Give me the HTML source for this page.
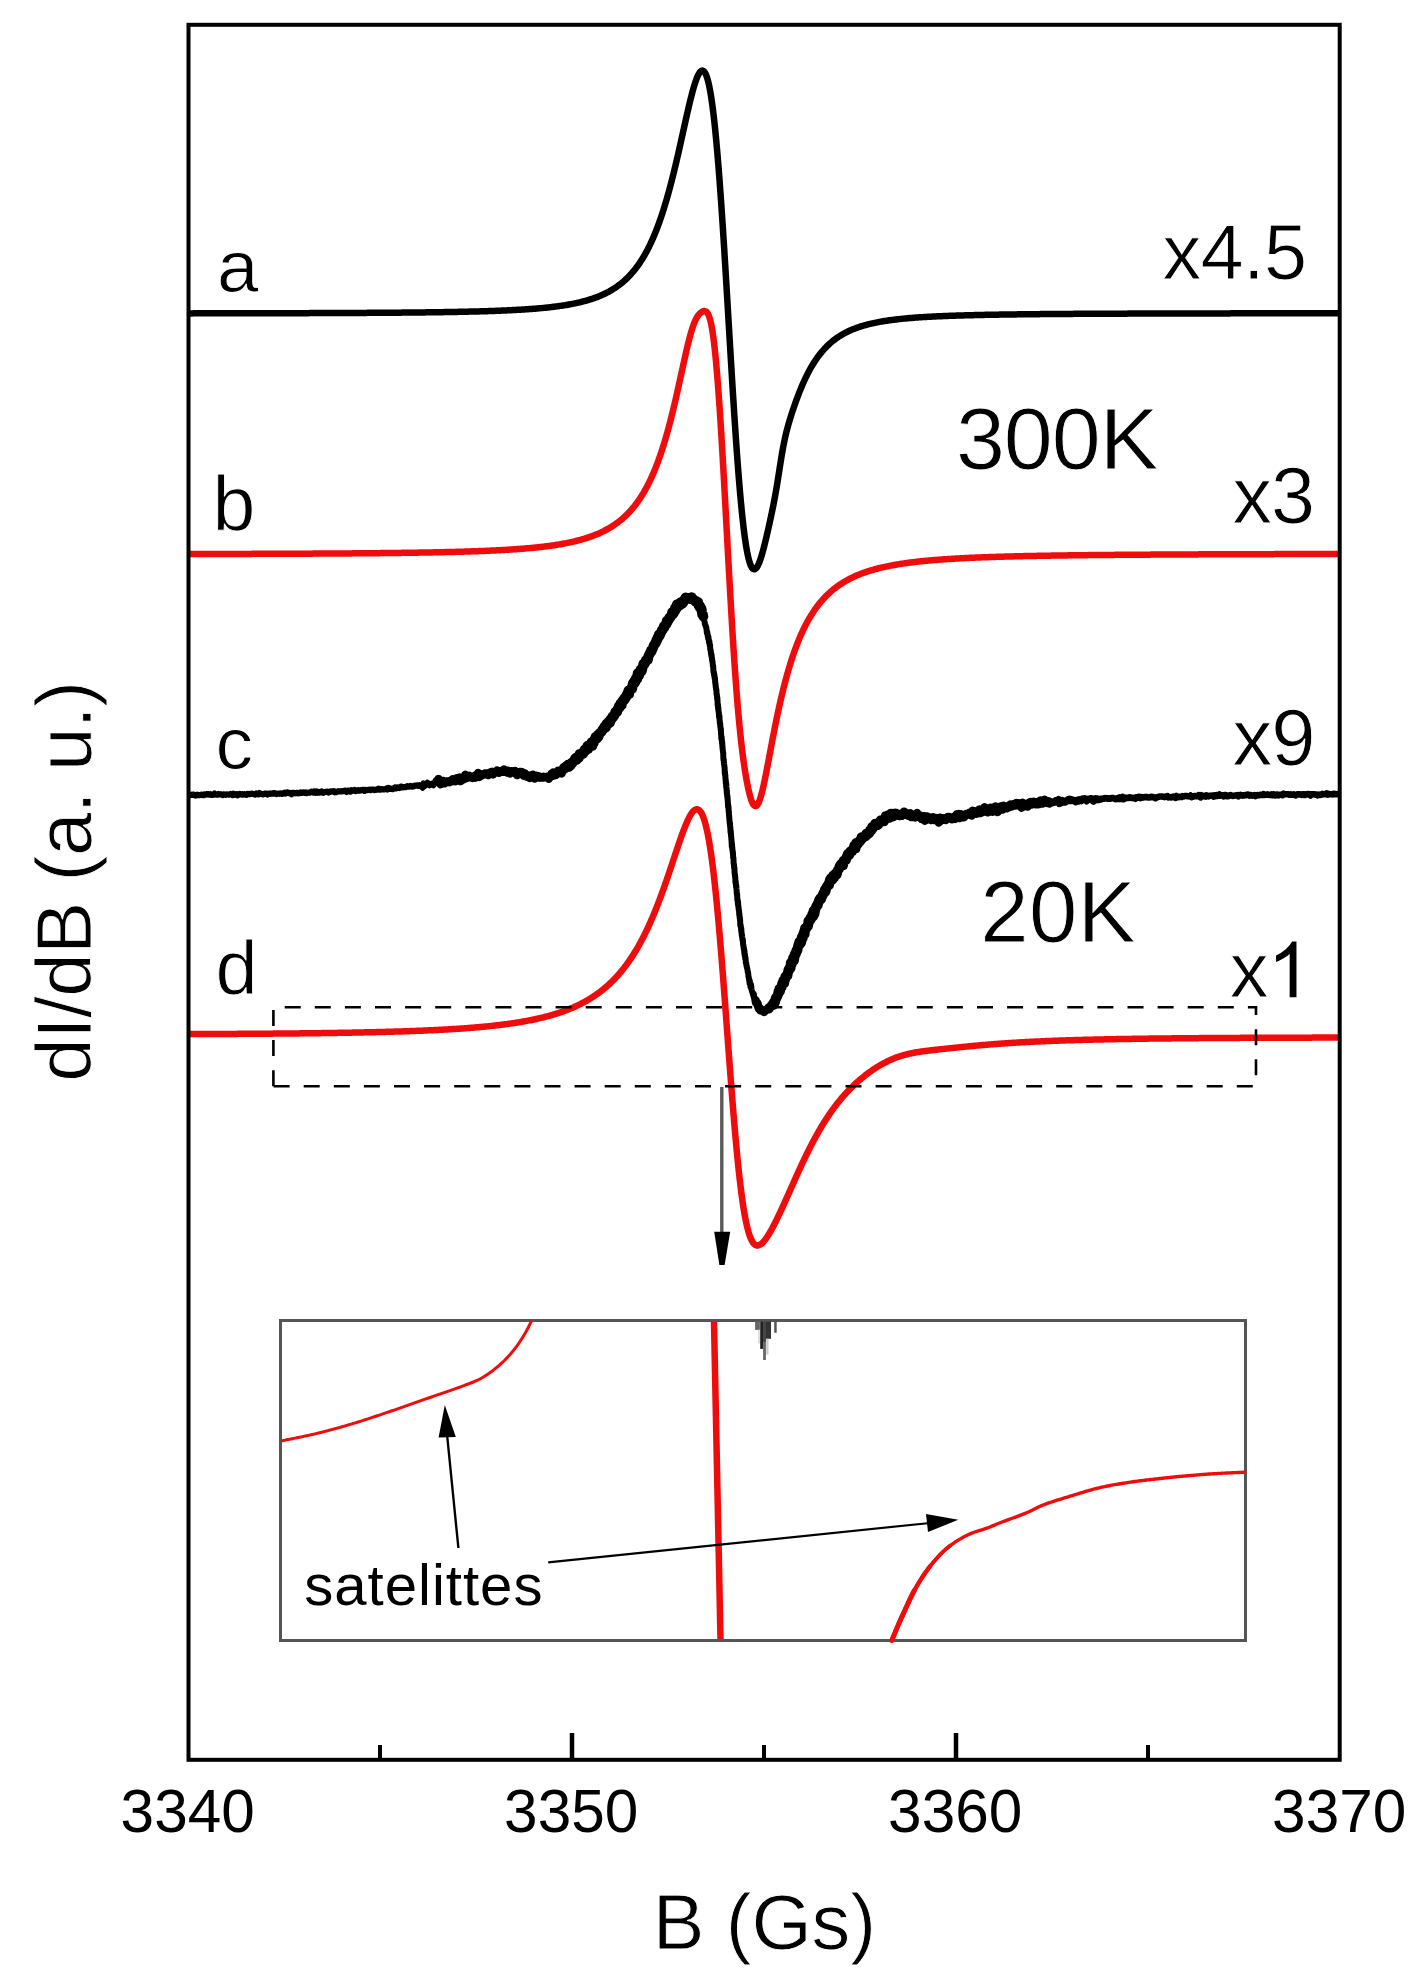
<!DOCTYPE html>
<html><head><meta charset="utf-8"><style>html,body{margin:0;padding:0;background:#fff;overflow:hidden}svg{display:block}</style></head>
<body><svg width="1420" height="1987" viewBox="0 0 1420 1987">
<rect x="0" y="0" width="1420" height="1987" fill="#fff"/>
<defs><clipPath id="pc"><rect x="188.5" y="25" width="1151.5" height="1735"/></clipPath></defs>
<g clip-path="url(#pc)">
<path d="M188.5,313.38 189.7,313.38 190.9,313.38 192.1,313.38 193.3,313.37 194.5,313.37 195.7,313.37 196.9,313.37 198.1,313.37 199.3,313.37 200.5,313.36 201.7,313.36 202.9,313.36 204.1,313.36 205.3,313.36 206.5,313.36 207.7,313.35 208.9,313.35 210.1,313.35 211.3,313.35 212.5,313.35 213.7,313.34 214.9,313.34 216.1,313.34 217.3,313.34 218.5,313.34 219.7,313.33 220.9,313.33 222.1,313.33 223.3,313.33 224.5,313.33 225.7,313.32 226.9,313.32 228.1,313.32 229.3,313.32 230.5,313.32 231.7,313.31 232.9,313.31 234.1,313.31 235.3,313.31 236.5,313.31 237.7,313.3 238.9,313.3 240.1,313.3 241.3,313.3 242.5,313.29 243.7,313.29 244.9,313.29 246.1,313.29 247.3,313.28 248.5,313.28 249.7,313.28 250.9,313.28 252.1,313.27 253.3,313.27 254.5,313.27 255.7,313.27 256.9,313.26 258.1,313.26 259.3,313.26 260.5,313.26 261.7,313.25 262.9,313.25 264.1,313.25 265.3,313.25 266.5,313.24 267.7,313.24 268.9,313.24 270.1,313.24 271.3,313.23 272.5,313.23 273.7,313.23 274.9,313.22 276.1,313.22 277.3,313.22 278.5,313.21 279.7,313.21 280.9,313.21 282.1,313.21 283.3,313.2 284.5,313.2 285.7,313.2 286.9,313.19 288.1,313.19 289.3,313.19 290.5,313.18 291.7,313.18 292.9,313.18 294.1,313.17 295.3,313.17 296.5,313.17 297.7,313.16 298.9,313.16 300.1,313.15 301.3,313.15 302.5,313.15 303.7,313.14 304.9,313.14 306.1,313.14 307.3,313.13 308.5,313.13 309.7,313.12 310.9,313.12 312.1,313.12 313.3,313.11 314.5,313.11 315.7,313.1 316.9,313.1 318.1,313.1 319.3,313.09 320.5,313.09 321.7,313.08 322.9,313.08 324.1,313.07 325.3,313.07 326.5,313.06 327.7,313.06 328.9,313.05 330.1,313.05 331.3,313.05 332.5,313.04 333.7,313.04 334.9,313.03 336.1,313.03 337.3,313.02 338.5,313.02 339.7,313.01 340.9,313 342.1,313 343.3,312.99 344.5,312.99 345.7,312.98 346.9,312.98 348.1,312.97 349.3,312.97 350.5,312.96 351.7,312.95 352.9,312.95 354.1,312.94 355.3,312.94 356.5,312.93 357.7,312.92 358.9,312.92 360.1,312.91 361.3,312.9 362.5,312.9 363.7,312.89 364.9,312.88 366.1,312.88 367.3,312.87 368.5,312.86 369.7,312.85 370.9,312.85 372.1,312.84 373.3,312.83 374.5,312.82 375.7,312.82 376.9,312.81 378.1,312.8 379.3,312.79 380.5,312.78 381.7,312.78 382.9,312.77 384.1,312.76 385.3,312.75 386.5,312.74 387.7,312.73 388.9,312.72 390.1,312.71 391.3,312.71 392.5,312.7 393.7,312.69 394.9,312.68 396.1,312.67 397.3,312.66 398.5,312.65 399.7,312.64 400.9,312.63 402.1,312.62 403.3,312.6 404.5,312.59 405.7,312.58 406.9,312.57 408.1,312.56 409.3,312.55 410.5,312.54 411.7,312.52 412.9,312.51 414.1,312.5 415.3,312.49 416.5,312.47 417.7,312.46 418.9,312.45 420.1,312.43 421.3,312.42 422.5,312.41 423.7,312.39 424.9,312.38 426.1,312.36 427.3,312.35 428.5,312.33 429.7,312.32 430.9,312.3 432.1,312.29 433.3,312.27 434.5,312.25 435.7,312.24 436.9,312.22 438.1,312.2 439.3,312.19 440.5,312.17 441.7,312.15 442.9,312.13 444.1,312.11 445.3,312.09 446.5,312.07 447.7,312.05 448.9,312.03 450.1,312.01 451.3,311.99 452.5,311.97 453.7,311.95 454.9,311.93 456.1,311.9 457.3,311.88 458.5,311.86 459.7,311.83 460.9,311.81 462.1,311.78 463.3,311.76 464.5,311.73 465.7,311.71 466.9,311.68 468.1,311.65 469.3,311.62 470.5,311.6 471.7,311.57 472.9,311.54 474.1,311.51 475.3,311.48 476.5,311.44 477.7,311.41 478.9,311.38 480.1,311.35 481.3,311.31 482.5,311.28 483.7,311.24 484.9,311.21 486.1,311.17 487.3,311.13 488.5,311.09 489.7,311.05 490.9,311.01 492.1,310.97 493.3,310.93 494.5,310.89 495.7,310.84 496.9,310.8 498.1,310.75 499.3,310.7 500.5,310.66 501.7,310.61 502.9,310.56 504.1,310.51 505.3,310.45 506.5,310.4 507.7,310.35 508.9,310.29 510.1,310.23 511.3,310.17 512.5,310.11 513.7,310.05 514.9,309.99 516.1,309.92 517.3,309.86 518.5,309.79 519.7,309.72 520.9,309.65 522.1,309.58 523.3,309.5 524.5,309.42 525.7,309.35 526.9,309.27 528.1,309.18 529.3,309.1 530.5,309.01 531.7,308.92 532.9,308.83 534.1,308.74 535.3,308.64 536.5,308.54 537.7,308.44 538.9,308.34 540.1,308.23 541.3,308.12 542.5,308.01 543.7,307.89 544.9,307.77 546.1,307.65 547.3,307.53 548.5,307.4 549.7,307.26 550.9,307.13 552.1,306.99 553.3,306.84 554.5,306.69 555.7,306.54 556.9,306.39 558.1,306.22 559.3,306.06 560.5,305.89 561.7,305.71 562.9,305.53 564.1,305.34 565.3,305.15 566.5,304.95 567.7,304.74 568.9,304.53 570.1,304.31 571.28,304.09 572.46,303.87 573.64,303.63 574.82,303.39 576,303.14 577.18,302.88 578.36,302.62 579.54,302.34 580.72,302.06 581.9,301.77 583.08,301.47 584.26,301.16 585.42,300.84 586.58,300.52 587.74,300.18 588.9,299.83 590.06,299.47 591.22,299.1 592.36,298.72 593.5,298.33 594.64,297.93 595.78,297.52 596.92,297.09 598.04,296.65 599.16,296.2 600.28,295.74 601.4,295.25 602.5,294.77 603.6,294.26 604.7,293.74 605.78,293.21 606.86,292.66 607.94,292.1 609,291.53 610.06,290.93 611.1,290.34 612.14,289.72 613.18,289.08 614.2,288.43 615.22,287.76 616.22,287.08 617.22,286.38 618.2,285.68 619.18,284.95 620.14,284.21 621.1,283.46 622.04,282.69 622.96,281.92 623.88,281.12 624.78,280.32 625.68,279.49 626.56,278.66 627.44,277.81 628.3,276.95 629.14,276.08 629.98,275.19 630.8,274.3 631.62,273.39 632.42,272.47 633.2,271.55 633.98,270.61 634.74,269.67 635.5,268.71 636.24,267.74 636.96,266.78 637.68,265.8 638.38,264.82 639.08,263.82 639.76,262.82 640.44,261.8 641.1,260.79 641.76,259.76 642.4,258.73 643.04,257.69 643.66,256.65 644.28,255.59 644.88,254.55 645.48,253.49 646.08,252.4 646.66,251.33 647.24,250.24 647.8,249.17 648.36,248.07 648.9,247 649.44,245.91 649.98,244.79 650.5,243.7 651.02,242.6 651.54,241.47 652.04,240.37 652.54,239.25 653.04,238.11 653.52,237 654,235.87 654.48,234.73 654.94,233.61 655.4,232.49 655.86,231.34 656.32,230.18 656.76,229.05 657.2,227.9 657.64,226.75 658.08,225.57 658.5,224.43 658.92,223.28 659.34,222.12 659.76,220.93 660.16,219.79 660.56,218.64 660.96,217.48 661.36,216.29 661.76,215.1 662.14,213.95 662.52,212.79 662.9,211.62 663.28,210.43 663.66,209.23 664.02,208.08 664.38,206.92 664.74,205.75 665.1,204.57 665.46,203.37 665.82,202.17 666.18,200.95 666.52,199.79 666.86,198.62 667.2,197.43 667.54,196.24 667.88,195.04 668.22,193.82 668.56,192.6 668.88,191.43 669.2,190.26 669.52,189.08 669.84,187.89 670.16,186.69 670.48,185.49 670.8,184.27 671.12,183.04 671.44,181.81 671.74,180.64 672.04,179.47 672.34,178.29 672.64,177.1 672.94,175.9 673.24,174.7 673.54,173.49 673.84,172.27 674.14,171.05 674.44,169.81 674.74,168.58 675.04,167.33 675.32,166.16 675.6,164.99 675.88,163.81 676.16,162.62 676.44,161.43 676.72,160.24 677,159.04 677.28,157.83 677.56,156.62 677.84,155.4 678.12,154.18 678.4,152.96 678.68,151.73 678.96,150.5 679.24,149.26 679.52,148.02 679.8,146.78 680.08,145.54 680.36,144.29 680.64,143.03 680.92,141.78 681.2,140.52 681.48,139.26 681.76,138 682.02,136.83 682.28,135.66 682.54,134.48 682.8,133.31 683.06,132.13 683.32,130.96 683.58,129.78 683.84,128.61 684.1,127.43 684.36,126.26 684.62,125.09 684.9,123.82 685.18,122.57 685.46,121.31 685.74,120.05 686.02,118.8 686.3,117.55 686.58,116.31 686.86,115.07 687.14,113.84 687.42,112.61 687.7,111.38 687.98,110.16 688.26,108.95 688.54,107.75 688.82,106.55 689.1,105.36 689.38,104.18 689.66,103.01 689.96,101.77 690.26,100.53 690.56,99.32 690.86,98.11 691.16,96.92 691.46,95.74 691.76,94.58 692.08,93.35 692.4,92.15 692.72,90.97 693.04,89.81 693.38,88.6 693.72,87.42 694.06,86.26 694.42,85.07 694.78,83.92 695.16,82.74 695.54,81.6 695.94,80.44 696.36,79.29 696.8,78.14 697.26,77.01 697.76,75.87 698.3,74.75 698.88,73.68 699.54,72.64 700.3,71.68 701.22,70.9 702.38,70.56 703.52,70.97 704.4,71.83 705.08,72.84 705.64,73.9 706.14,75.04 706.58,76.18 706.98,77.35 707.34,78.5 707.68,79.68 708,80.86 708.3,82.05 708.58,83.22 708.86,84.45 709.12,85.65 709.38,86.91 709.62,88.11 709.86,89.37 710.08,90.56 710.3,91.79 710.52,93.06 710.72,94.25 710.92,95.47 711.12,96.73 711.32,98.02 711.5,99.21 711.68,100.43 711.86,101.68 712.04,102.95 712.22,104.25 712.4,105.58 712.56,106.79 712.72,108.01 712.88,109.26 713.04,110.53 713.2,111.83 713.36,113.14 713.52,114.48 713.68,115.84 713.82,117.04 713.96,118.27 714.1,119.51 714.24,120.76 714.38,122.04 714.52,123.33 714.66,124.64 714.8,125.96 714.94,127.3 715.08,128.66 715.22,130.03 715.36,131.42 715.48,132.63 715.6,133.85 715.72,135.08 715.84,136.32 715.96,137.57 716.08,138.84 716.2,140.11 716.32,141.4 716.44,142.71 716.56,144.02 716.68,145.34 716.8,146.68 716.92,148.03 717.04,149.39 717.16,150.76 717.28,152.14 717.4,153.54 717.52,154.94 717.64,156.36 717.76,157.79 717.86,158.99 717.96,160.2 718.06,161.41 718.16,162.64 718.26,163.87 718.36,165.1 718.46,166.35 718.56,167.6 718.66,168.86 718.76,170.13 718.86,171.41 718.96,172.69 719.06,173.98 719.16,175.28 719.26,176.58 719.36,177.9 719.46,179.22 719.56,180.54 719.66,181.88 719.76,183.22 719.86,184.56 719.96,185.92 720.06,187.28 720.16,188.65 720.26,190.02 720.36,191.4 720.46,192.79 720.56,194.19 720.66,195.59 720.76,197 720.86,198.41 720.96,199.83 721.06,201.26 721.16,202.69 721.26,204.13 721.36,205.58 721.46,207.03 721.56,208.49 721.66,209.95 721.76,211.42 721.86,212.89 721.96,214.37 722.06,215.86 722.16,217.35 722.24,218.55 722.32,219.75 722.4,220.96 722.48,222.16 722.56,223.38 722.64,224.59 722.72,225.81 722.8,227.03 722.88,228.25 722.96,229.48 723.04,230.71 723.12,231.95 723.2,233.18 723.28,234.42 723.36,235.67 723.44,236.91 723.52,238.16 723.6,239.41 723.68,240.67 723.76,241.93 723.84,243.19 723.92,244.45 724,245.72 724.08,246.98 724.16,248.26 724.24,249.53 724.32,250.81 724.4,252.08 724.48,253.37 724.56,254.65 724.64,255.94 724.72,257.22 724.8,258.51 724.88,259.81 724.96,261.1 725.04,262.4 725.12,263.7 725.2,265 725.28,266.3 725.36,267.61 725.44,268.91 725.52,270.22 725.6,271.53 725.68,272.85 725.76,274.16 725.84,275.48 725.92,276.79 726,278.11 726.08,279.43 726.16,280.76 726.24,282.08 726.32,283.4 726.4,284.73 726.48,286.06 726.56,287.39 726.64,288.72 726.72,290.05 726.8,291.38 726.88,292.72 726.96,294.05 727.04,295.39 727.12,296.72 727.2,298.06 727.28,299.4 727.36,300.74 727.44,302.08 727.52,303.42 727.6,304.76 727.68,306.1 727.76,307.45 727.84,308.79 727.92,310.13 728,311.48 728.08,312.82 728.16,314.17 728.24,315.51 728.32,316.86 728.4,318.2 728.48,319.55 728.56,320.89 728.64,322.24 728.72,323.58 728.8,324.93 728.88,326.28 728.96,327.62 729.04,328.97 729.12,330.31 729.2,331.66 729.28,333 729.36,334.34 729.44,335.69 729.52,337.03 729.6,338.37 729.68,339.72 729.76,341.06 729.84,342.4 729.92,343.74 730,345.08 730.08,346.41 730.16,347.75 730.24,349.09 730.32,350.42 730.4,351.76 730.48,353.09 730.56,354.42 730.64,355.76 730.72,357.09 730.8,358.41 730.88,359.74 730.96,361.07 731.04,362.39 731.12,363.72 731.2,365.04 731.28,366.36 731.36,367.68 731.44,368.99 731.52,370.31 731.6,371.62 731.68,372.94 731.76,374.25 731.84,375.55 731.92,376.86 732,378.17 732.08,379.47 732.16,380.77 732.24,382.07 732.32,383.36 732.4,384.66 732.48,385.95 732.56,387.24 732.64,388.53 732.72,389.81 732.8,391.09 732.88,392.37 732.96,393.65 733.04,394.93 733.12,396.2 733.2,397.47 733.28,398.74 733.36,400 733.44,401.26 733.52,402.52 733.6,403.78 733.68,405.03 733.76,406.28 733.84,407.53 733.92,408.78 734,410.02 734.08,411.26 734.16,412.49 734.24,413.72 734.32,414.95 734.4,416.18 734.48,417.4 734.56,418.62 734.64,419.84 734.72,421.05 734.8,422.26 734.88,423.47 734.96,424.67 735.04,425.87 735.14,427.36 735.24,428.85 735.34,430.33 735.44,431.81 735.54,433.28 735.64,434.74 735.74,436.2 735.84,437.66 735.94,439.1 736.04,440.54 736.14,441.98 736.24,443.4 736.34,444.83 736.44,446.24 736.54,447.65 736.64,449.05 736.74,450.45 736.84,451.84 736.94,453.22 737.04,454.59 737.14,455.96 737.24,457.32 737.34,458.68 737.44,460.03 737.54,461.37 737.64,462.7 737.74,464.03 737.84,465.35 737.94,466.66 738.04,467.96 738.14,469.26 738.24,470.55 738.34,471.83 738.44,473.1 738.54,474.37 738.64,475.63 738.74,476.88 738.84,478.13 738.94,479.36 739.04,480.59 739.14,481.81 739.24,483.02 739.34,484.23 739.44,485.42 739.56,486.85 739.68,488.26 739.8,489.66 739.92,491.06 740.04,492.43 740.16,493.8 740.28,495.16 740.4,496.5 740.52,497.83 740.64,499.15 740.76,500.46 740.88,501.75 741,503.03 741.12,504.3 741.24,505.56 741.36,506.81 741.48,508.04 741.6,509.26 741.72,510.47 741.84,511.67 741.98,513.05 742.12,514.41 742.26,515.75 742.4,517.08 742.54,518.39 742.68,519.69 742.82,520.97 742.96,522.23 743.1,523.47 743.24,524.69 743.38,525.9 743.54,527.26 743.7,528.6 743.86,529.91 744.02,531.2 744.18,532.47 744.34,533.72 744.5,534.94 744.66,536.14 744.84,537.46 745.02,538.76 745.2,540.02 745.38,541.26 745.56,542.47 745.76,543.78 745.96,545.05 746.16,546.29 746.36,547.5 746.58,548.78 746.8,550.03 747.02,551.23 747.26,552.49 747.5,553.71 747.76,554.97 748.02,556.17 748.3,557.4 748.58,558.57 748.88,559.75 749.2,560.93 749.54,562.09 749.92,563.28 750.34,564.47 750.8,565.61 751.32,566.71 751.94,567.76 752.72,568.71 753.76,569.33 754.96,569.2 755.94,568.48 756.72,567.53 757.38,566.49 757.96,565.41 758.48,564.32 758.96,563.21 759.42,562.05 759.86,560.88 760.28,559.69 760.68,558.5 761.06,557.33 761.42,556.17 761.78,554.98 762.12,553.82 762.46,552.63 762.8,551.41 763.12,550.24 763.44,549.05 763.76,547.83 764.08,546.59 764.38,545.42 764.68,544.22 764.98,543.02 765.28,541.79 765.58,540.56 765.88,539.31 766.16,538.13 766.44,536.95 766.72,535.75 767,534.55 767.28,533.33 767.56,532.11 767.84,530.88 768.12,529.65 768.4,528.41 768.68,527.16 768.96,525.9 769.22,524.73 769.48,523.56 769.74,522.37 770,521.18 770.26,519.99 770.52,518.79 770.78,517.58 771.04,516.37 771.3,515.14 771.56,513.91 771.82,512.68 772.08,511.43 772.34,510.17 772.6,508.9 772.84,507.72 773.08,506.53 773.32,505.33 773.56,504.11 773.8,502.89 774.04,501.65 774.28,500.39 774.52,499.12 774.76,497.84 774.98,496.65 775.2,495.44 775.42,494.22 775.64,492.98 775.86,491.73 776.08,490.47 776.3,489.19 776.52,487.89 776.72,486.7 776.92,485.5 777.12,484.29 777.32,483.07 777.52,481.83 777.72,480.59 777.92,479.34 778.12,478.07 778.32,476.81 778.52,475.53 778.72,474.25 778.92,472.97 779.12,471.69 779.32,470.4 779.52,469.11 779.72,467.83 779.92,466.54 780.12,465.27 780.32,463.99 780.52,462.73 780.72,461.47 780.92,460.22 781.12,458.98 781.32,457.76 781.52,456.54 781.72,455.34 781.92,454.16 782.14,452.87 782.36,451.61 782.58,450.36 782.8,449.14 783.02,447.94 783.24,446.76 783.48,445.49 783.72,444.26 783.96,443.05 784.2,441.86 784.46,440.61 784.72,439.38 784.98,438.18 785.26,436.93 785.54,435.7 785.82,434.5 786.1,433.33 786.4,432.1 786.7,430.91 787,429.74 787.32,428.52 787.64,427.32 787.96,426.15 788.3,424.93 788.64,423.74 788.98,422.56 789.32,421.4 789.68,420.2 790.04,419.01 790.4,417.84 790.76,416.69 791.14,415.48 791.52,414.29 791.9,413.12 792.28,411.96 792.66,410.81 793.06,409.61 793.46,408.43 793.86,407.26 794.26,406.1 794.66,404.95 795.06,403.81 795.48,402.63 795.9,401.46 796.32,400.3 796.74,399.16 797.16,398.03 797.6,396.85 798.04,395.69 798.48,394.55 798.92,393.41 799.36,392.3 799.82,391.14 800.28,390 800.74,388.87 801.2,387.76 801.68,386.62 802.16,385.49 802.64,384.38 803.14,383.24 803.64,382.12 804.14,381.02 804.66,379.89 805.18,378.77 805.7,377.68 806.24,376.56 806.78,375.47 807.32,374.39 807.88,373.29 808.44,372.22 809.02,371.12 809.6,370.05 810.18,369 810.78,367.93 811.38,366.89 812,365.83 812.62,364.8 813.26,363.75 813.9,362.73 814.56,361.7 815.22,360.7 815.9,359.68 816.6,358.67 817.3,357.68 818.02,356.68 818.74,355.71 819.48,354.74 820.22,353.8 820.98,352.85 821.76,351.91 822.54,350.99 823.34,350.08 824.16,349.17 824.98,348.28 825.82,347.4 826.68,346.53 827.54,345.68 828.42,344.84 829.32,344.01 830.22,343.2 831.14,342.4 832.06,341.63 833,340.86 833.96,340.11 834.92,339.38 835.9,338.66 836.88,337.96 837.88,337.27 838.88,336.61 839.9,335.96 840.94,335.31 841.98,334.69 843.02,334.09 844.08,333.5 845.14,332.93 846.22,332.37 847.3,331.83 848.4,331.3 849.5,330.79 850.6,330.3 851.72,329.81 852.84,329.35 853.96,328.9 855.08,328.46 856.22,328.03 857.36,327.62 858.5,327.23 859.64,326.84 860.8,326.47 861.96,326.1 863.12,325.75 864.28,325.41 865.44,325.09 866.6,324.77 867.78,324.46 868.96,324.17 870.14,323.88 871.32,323.6 872.5,323.33 873.68,323.07 874.86,322.82 876.04,322.57 877.22,322.34 878.4,322.11 879.58,321.89 880.78,321.67 881.98,321.46 883.18,321.26 884.38,321.07 885.58,320.88 886.78,320.69 887.98,320.51 889.18,320.34 890.38,320.18 891.58,320.01 892.78,319.86 893.98,319.7 895.18,319.56 896.38,319.41 897.58,319.27 898.78,319.14 899.98,319.01 901.18,318.88 902.38,318.76 903.58,318.64 904.78,318.52 905.98,318.41 907.18,318.3 908.38,318.19 909.58,318.09 910.78,317.99 911.98,317.89 913.18,317.8 914.38,317.7 915.58,317.61 916.78,317.53 917.98,317.44 919.18,317.36 920.38,317.28 921.58,317.2 922.78,317.12 923.98,317.05 925.18,316.97 926.38,316.9 927.58,316.83 928.78,316.77 929.98,316.7 931.18,316.64 932.38,316.57 933.58,316.51 934.78,316.45 935.98,316.4 937.18,316.34 938.38,316.28 939.58,316.23 940.78,316.18 941.98,316.13 943.18,316.08 944.38,316.03 945.58,315.98 946.78,315.93 947.98,315.89 949.18,315.84 950.38,315.8 951.58,315.76 952.78,315.71 953.98,315.67 955.18,315.63 956.38,315.59 957.58,315.56 958.78,315.52 959.98,315.48 961.18,315.45 962.38,315.41 963.58,315.38 964.78,315.34 965.98,315.31 967.18,315.28 968.38,315.25 969.58,315.21 970.78,315.18 971.98,315.15 973.18,315.13 974.38,315.1 975.58,315.07 976.78,315.04 977.98,315.02 979.18,314.99 980.38,314.96 981.58,314.94 982.78,314.91 983.98,314.89 985.18,314.87 986.38,314.84 987.58,314.82 988.78,314.8 989.98,314.77 991.18,314.75 992.38,314.73 993.58,314.71 994.78,314.69 995.98,314.67 997.18,314.65 998.38,314.63 999.58,314.61 1000.78,314.59 1001.98,314.57 1003.18,314.56 1004.38,314.54 1005.58,314.52 1006.78,314.5 1007.98,314.49 1009.18,314.47 1010.38,314.45 1011.58,314.44 1012.78,314.42 1013.98,314.41 1015.18,314.39 1016.38,314.38 1017.58,314.36 1018.78,314.35 1019.98,314.33 1021.18,314.32 1022.38,314.31 1023.58,314.29 1024.78,314.28 1025.98,314.27 1027.18,314.25 1028.38,314.24 1029.58,314.23 1030.78,314.22 1031.98,314.2 1033.18,314.19 1034.38,314.18 1035.58,314.17 1036.78,314.16 1037.98,314.15 1039.18,314.13 1040.38,314.12 1041.58,314.11 1042.78,314.1 1043.98,314.09 1045.18,314.08 1046.38,314.07 1047.58,314.06 1048.78,314.05 1049.98,314.04 1051.18,314.03 1052.38,314.02 1053.58,314.01 1054.78,314 1055.98,314 1057.18,313.99 1058.38,313.98 1059.58,313.97 1060.78,313.96 1061.98,313.95 1063.18,313.94 1064.38,313.94 1065.58,313.93 1066.78,313.92 1067.98,313.91 1069.18,313.9 1070.38,313.9 1071.58,313.89 1072.78,313.88 1073.98,313.87 1075.18,313.87 1076.38,313.86 1077.58,313.85 1078.78,313.85 1079.98,313.84 1081.18,313.83 1082.38,313.83 1083.58,313.82 1084.78,313.81 1085.98,313.81 1087.18,313.8 1088.38,313.79 1089.58,313.79 1090.78,313.78 1091.98,313.78 1093.18,313.77 1094.38,313.76 1095.58,313.76 1096.78,313.75 1097.98,313.75 1099.18,313.74 1100.38,313.74 1101.58,313.73 1102.78,313.72 1103.98,313.72 1105.18,313.71 1106.38,313.71 1107.58,313.7 1108.78,313.7 1109.98,313.69 1111.18,313.69 1112.38,313.68 1113.58,313.68 1114.78,313.67 1115.98,313.67 1117.18,313.66 1118.38,313.66 1119.58,313.65 1120.78,313.65 1121.98,313.65 1123.18,313.64 1124.38,313.64 1125.58,313.63 1126.78,313.63 1127.98,313.62 1129.18,313.62 1130.38,313.62 1131.58,313.61 1132.78,313.61 1133.98,313.6 1135.18,313.6 1136.38,313.6 1137.58,313.59 1138.78,313.59 1139.98,313.58 1141.18,313.58 1142.38,313.58 1143.58,313.57 1144.78,313.57 1145.98,313.56 1147.18,313.56 1148.38,313.56 1149.58,313.55 1150.78,313.55 1151.98,313.55 1153.18,313.54 1154.38,313.54 1155.58,313.54 1156.78,313.53 1157.98,313.53 1159.18,313.53 1160.38,313.52 1161.58,313.52 1162.78,313.52 1163.98,313.51 1165.18,313.51 1166.38,313.51 1167.58,313.5 1168.78,313.5 1169.98,313.5 1171.18,313.5 1172.38,313.49 1173.58,313.49 1174.78,313.49 1175.98,313.48 1177.18,313.48 1178.38,313.48 1179.58,313.48 1180.78,313.47 1181.98,313.47 1183.18,313.47 1184.38,313.46 1185.58,313.46 1186.78,313.46 1187.98,313.46 1189.18,313.45 1190.38,313.45 1191.58,313.45 1192.78,313.45 1193.98,313.44 1195.18,313.44 1196.38,313.44 1197.58,313.44 1198.78,313.43 1199.98,313.43 1201.18,313.43 1202.38,313.43 1203.58,313.42 1204.78,313.42 1205.98,313.42 1207.18,313.42 1208.38,313.41 1209.58,313.41 1210.78,313.41 1211.98,313.41 1213.18,313.41 1214.38,313.4 1215.58,313.4 1216.78,313.4 1217.98,313.4 1219.18,313.39 1220.38,313.39 1221.58,313.39 1222.78,313.39 1223.98,313.39 1225.18,313.38 1226.38,313.38 1227.58,313.38 1228.78,313.38 1229.98,313.38 1231.18,313.37 1232.38,313.37 1233.58,313.37 1234.78,313.37 1235.98,313.37 1237.18,313.36 1238.38,313.36 1239.58,313.36 1240.78,313.36 1241.98,313.36 1243.18,313.36 1244.38,313.35 1245.58,313.35 1246.78,313.35 1247.98,313.35 1249.18,313.35 1250.38,313.34 1251.58,313.34 1252.78,313.34 1253.98,313.34 1255.18,313.34 1256.38,313.34 1257.58,313.33 1258.78,313.33 1259.98,313.33 1261.18,313.33 1262.38,313.33 1263.58,313.33 1264.78,313.32 1265.98,313.32 1267.18,313.32 1268.38,313.32 1269.58,313.32 1270.78,313.32 1271.98,313.31 1273.18,313.31 1274.38,313.31 1275.58,313.31 1276.78,313.31 1277.98,313.31 1279.18,313.31 1280.38,313.3 1281.58,313.3 1282.78,313.3 1283.98,313.3 1285.18,313.3 1286.38,313.3 1287.58,313.29 1288.78,313.29 1289.98,313.29 1291.18,313.29 1292.38,313.29 1293.58,313.29 1294.78,313.29 1295.98,313.28 1297.18,313.28 1298.38,313.28 1299.58,313.28 1300.78,313.28 1301.98,313.28 1303.18,313.28 1304.38,313.27 1305.58,313.27 1306.78,313.27 1307.98,313.27 1309.18,313.27 1310.38,313.27 1311.58,313.27 1312.78,313.27 1313.98,313.26 1315.18,313.26 1316.38,313.26 1317.58,313.26 1318.78,313.26 1319.98,313.26 1321.18,313.26 1322.38,313.26 1323.58,313.25 1324.78,313.25 1325.98,313.25 1327.18,313.25 1328.38,313.25 1329.58,313.25 1330.78,313.25 1331.98,313.25 1333.18,313.24 1334.38,313.24 1335.58,313.24 1336.78,313.24 1337.98,313.24 1339.18,313.24 1340,313.24" fill="none" stroke="#000" stroke-width="6.5" stroke-linejoin="round"/>
<path d="M188.5,554.04 189.7,554.04 190.9,554.03 192.1,554.03 193.3,554.03 194.5,554.03 195.7,554.02 196.9,554.02 198.1,554.02 199.3,554.02 200.5,554.01 201.7,554.01 202.9,554.01 204.1,554 205.3,554 206.5,554 207.7,554 208.9,553.99 210.1,553.99 211.3,553.99 212.5,553.98 213.7,553.98 214.9,553.98 216.1,553.97 217.3,553.97 218.5,553.97 219.7,553.97 220.9,553.96 222.1,553.96 223.3,553.96 224.5,553.95 225.7,553.95 226.9,553.95 228.1,553.94 229.3,553.94 230.5,553.94 231.7,553.93 232.9,553.93 234.1,553.93 235.3,553.92 236.5,553.92 237.7,553.92 238.9,553.91 240.1,553.91 241.3,553.91 242.5,553.9 243.7,553.9 244.9,553.9 246.1,553.89 247.3,553.89 248.5,553.88 249.7,553.88 250.9,553.88 252.1,553.87 253.3,553.87 254.5,553.86 255.7,553.86 256.9,553.86 258.1,553.85 259.3,553.85 260.5,553.84 261.7,553.84 262.9,553.84 264.1,553.83 265.3,553.83 266.5,553.82 267.7,553.82 268.9,553.82 270.1,553.81 271.3,553.81 272.5,553.8 273.7,553.8 274.9,553.79 276.1,553.79 277.3,553.78 278.5,553.78 279.7,553.77 280.9,553.77 282.1,553.76 283.3,553.76 284.5,553.75 285.7,553.75 286.9,553.74 288.1,553.74 289.3,553.73 290.5,553.73 291.7,553.72 292.9,553.72 294.1,553.71 295.3,553.71 296.5,553.7 297.7,553.7 298.9,553.69 300.1,553.69 301.3,553.68 302.5,553.67 303.7,553.67 304.9,553.66 306.1,553.66 307.3,553.65 308.5,553.64 309.7,553.64 310.9,553.63 312.1,553.63 313.3,553.62 314.5,553.61 315.7,553.61 316.9,553.6 318.1,553.59 319.3,553.59 320.5,553.58 321.7,553.57 322.9,553.57 324.1,553.56 325.3,553.55 326.5,553.55 327.7,553.54 328.9,553.53 330.1,553.52 331.3,553.52 332.5,553.51 333.7,553.5 334.9,553.49 336.1,553.49 337.3,553.48 338.5,553.47 339.7,553.46 340.9,553.45 342.1,553.45 343.3,553.44 344.5,553.43 345.7,553.42 346.9,553.41 348.1,553.4 349.3,553.39 350.5,553.39 351.7,553.38 352.9,553.37 354.1,553.36 355.3,553.35 356.5,553.34 357.7,553.33 358.9,553.32 360.1,553.31 361.3,553.3 362.5,553.29 363.7,553.28 364.9,553.27 366.1,553.26 367.3,553.25 368.5,553.24 369.7,553.23 370.9,553.22 372.1,553.2 373.3,553.19 374.5,553.18 375.7,553.17 376.9,553.16 378.1,553.15 379.3,553.13 380.5,553.12 381.7,553.11 382.9,553.1 384.1,553.08 385.3,553.07 386.5,553.06 387.7,553.04 388.9,553.03 390.1,553.02 391.3,553 392.5,552.99 393.7,552.98 394.9,552.96 396.1,552.95 397.3,552.93 398.5,552.92 399.7,552.9 400.9,552.89 402.1,552.87 403.3,552.85 404.5,552.84 405.7,552.82 406.9,552.8 408.1,552.79 409.3,552.77 410.5,552.75 411.7,552.74 412.9,552.72 414.1,552.7 415.3,552.68 416.5,552.66 417.7,552.64 418.9,552.62 420.1,552.6 421.3,552.58 422.5,552.56 423.7,552.54 424.9,552.52 426.1,552.5 427.3,552.48 428.5,552.46 429.7,552.44 430.9,552.41 432.1,552.39 433.3,552.37 434.5,552.34 435.7,552.32 436.9,552.29 438.1,552.27 439.3,552.24 440.5,552.22 441.7,552.19 442.9,552.17 444.1,552.14 445.3,552.11 446.5,552.08 447.7,552.06 448.9,552.03 450.1,552 451.3,551.97 452.5,551.94 453.7,551.91 454.9,551.88 456.1,551.84 457.3,551.81 458.5,551.78 459.7,551.75 460.9,551.71 462.1,551.68 463.3,551.64 464.5,551.6 465.7,551.57 466.9,551.53 468.1,551.49 469.3,551.45 470.5,551.42 471.7,551.37 472.9,551.33 474.1,551.29 475.3,551.25 476.5,551.21 477.7,551.16 478.9,551.12 480.1,551.07 481.3,551.03 482.5,550.98 483.7,550.93 484.9,550.88 486.1,550.83 487.3,550.78 488.5,550.73 489.7,550.67 490.9,550.62 492.1,550.56 493.3,550.51 494.5,550.45 495.7,550.39 496.9,550.33 498.1,550.27 499.3,550.21 500.5,550.14 501.7,550.08 502.9,550.01 504.1,549.95 505.3,549.88 506.5,549.81 507.7,549.73 508.9,549.66 510.1,549.58 511.3,549.51 512.5,549.43 513.7,549.35 514.9,549.27 516.1,549.18 517.3,549.1 518.5,549.01 519.7,548.92 520.9,548.83 522.1,548.74 523.3,548.64 524.5,548.54 525.7,548.44 526.9,548.34 528.1,548.24 529.3,548.13 530.5,548.02 531.7,547.91 532.9,547.79 534.1,547.67 535.3,547.55 536.5,547.43 537.7,547.3 538.9,547.17 540.1,547.04 541.3,546.91 542.5,546.77 543.7,546.63 544.9,546.48 546.1,546.33 547.3,546.18 548.5,546.02 549.7,545.86 550.9,545.69 552.1,545.52 553.3,545.35 554.5,545.17 555.7,544.99 556.9,544.8 558.1,544.6 559.3,544.41 560.5,544.2 561.7,543.99 562.9,543.78 564.1,543.56 565.28,543.33 566.46,543.1 567.64,542.87 568.82,542.63 570,542.38 571.18,542.12 572.36,541.86 573.54,541.59 574.72,541.31 575.9,541.03 577.08,540.73 578.26,540.43 579.44,540.12 580.6,539.8 581.76,539.48 582.92,539.15 584.08,538.8 585.24,538.45 586.4,538.09 587.56,537.71 588.7,537.33 589.84,536.94 590.98,536.54 592.12,536.13 593.26,535.7 594.38,535.27 595.5,534.83 596.62,534.37 597.74,533.9 598.86,533.41 599.96,532.92 601.06,532.41 602.16,531.89 603.24,531.36 604.32,530.82 605.4,530.26 606.46,529.69 607.52,529.11 608.58,528.51 609.62,527.9 610.66,527.27 611.68,526.64 612.7,525.99 613.72,525.31 614.72,524.64 615.72,523.94 616.7,523.23 617.68,522.51 618.64,521.78 619.6,521.03 620.54,520.27 621.48,519.49 622.4,518.71 623.32,517.9 624.22,517.09 625.12,516.25 626,515.42 626.86,514.57 627.72,513.71 628.56,512.84 629.4,511.95 630.22,511.06 631.04,510.15 631.84,509.23 632.62,508.32 633.4,507.38 634.16,506.44 634.92,505.49 635.66,504.53 636.4,503.55 637.12,502.57 637.84,501.58 638.54,500.58 639.24,499.57 639.92,498.56 640.6,497.53 641.26,496.5 641.92,495.46 642.56,494.42 643.2,493.36 643.82,492.32 644.44,491.25 645.04,490.2 645.64,489.12 646.22,488.06 646.8,486.99 647.36,485.92 647.92,484.84 648.48,483.74 649.02,482.66 649.56,481.56 650.1,480.44 650.62,479.34 651.14,478.23 651.64,477.14 652.14,476.03 652.64,474.9 653.12,473.8 653.6,472.68 654.08,471.55 654.56,470.39 655.02,469.27 655.48,468.14 655.94,466.98 656.38,465.86 656.82,464.72 657.26,463.57 657.7,462.4 658.12,461.27 658.54,460.12 658.96,458.96 659.38,457.78 659.78,456.64 660.18,455.49 660.58,454.33 660.98,453.15 661.38,451.95 661.76,450.8 662.14,449.64 662.52,448.47 662.9,447.28 663.28,446.08 663.64,444.92 664,443.76 664.36,442.58 664.72,441.39 665.08,440.19 665.44,438.97 665.78,437.81 666.12,436.64 666.46,435.46 666.8,434.27 667.14,433.06 667.48,431.85 667.82,430.62 668.14,429.45 668.46,428.28 668.78,427.09 669.1,425.9 669.42,424.69 669.74,423.47 670.06,422.25 670.38,421.01 670.68,419.84 670.98,418.67 671.28,417.48 671.58,416.29 671.88,415.08 672.18,413.87 672.48,412.65 672.78,411.43 673.08,410.19 673.38,408.95 673.66,407.78 673.94,406.61 674.22,405.43 674.5,404.24 674.78,403.05 675.06,401.85 675.34,400.64 675.62,399.43 675.9,398.21 676.18,396.99 676.46,395.76 676.74,394.52 677.02,393.28 677.3,392.04 677.58,390.79 677.86,389.53 678.14,388.28 678.4,387.1 678.66,385.93 678.92,384.75 679.18,383.57 679.44,382.39 679.7,381.2 679.96,380.01 680.22,378.82 680.48,377.63 680.74,376.44 681,375.24 681.26,374.05 681.52,372.86 681.78,371.66 682.04,370.47 682.3,369.27 682.56,368.08 682.82,366.89 683.08,365.7 683.34,364.51 683.6,363.33 683.86,362.14 684.12,360.96 684.38,359.79 684.66,358.53 684.94,357.27 685.22,356.03 685.5,354.78 685.78,353.55 686.06,352.32 686.34,351.1 686.62,349.89 686.9,348.7 687.18,347.51 687.46,346.33 687.76,345.08 688.06,343.85 688.36,342.63 688.66,341.43 688.96,340.24 689.26,339.07 689.58,337.85 689.9,336.65 690.22,335.47 690.56,334.24 690.9,333.04 691.24,331.88 691.6,330.67 691.96,329.5 692.34,328.31 692.72,327.16 693.12,325.99 693.54,324.82 693.98,323.65 694.44,322.49 694.92,321.35 695.42,320.24 695.96,319.12 696.52,318.06 697.14,316.99 697.8,315.97 698.52,314.98 699.3,314.05 700.16,313.18 701.1,312.4 702.12,311.74 703.22,311.26 704.42,311.06 705.6,311.31 706.6,311.99 707.4,312.92 708.04,313.96 708.58,315.08 709.04,316.22 709.44,317.36 709.8,318.52 710.14,319.73 710.46,320.97 710.74,322.14 711.02,323.4 711.28,324.65 711.52,325.87 711.76,327.15 711.98,328.39 712.2,329.68 712.4,330.91 712.6,332.18 712.78,333.37 712.96,334.6 713.14,335.87 713.32,337.18 713.48,338.37 713.64,339.6 713.8,340.86 713.96,342.16 714.12,343.48 714.28,344.84 714.42,346.06 714.56,347.29 714.7,348.56 714.84,349.85 714.98,351.16 715.12,352.5 715.26,353.86 715.4,355.25 715.52,356.46 715.64,357.69 715.76,358.94 715.88,360.2 716,361.48 716.12,362.78 716.24,364.1 716.36,365.43 716.48,366.78 716.6,368.15 716.72,369.54 716.84,370.94 716.96,372.37 717.06,373.56 717.16,374.77 717.26,375.99 717.36,377.23 717.46,378.47 717.56,379.73 717.66,381 717.76,382.28 717.86,383.57 717.96,384.87 718.06,386.18 718.16,387.51 718.26,388.84 718.36,390.19 718.46,391.55 718.56,392.91 718.66,394.29 718.76,395.68 718.86,397.08 718.96,398.49 719.06,399.91 719.16,401.35 719.26,402.79 719.36,404.24 719.46,405.7 719.56,407.17 719.66,408.65 719.76,410.14 719.84,411.34 719.92,412.55 720,413.76 720.08,414.98 720.16,416.2 720.24,417.43 720.32,418.66 720.4,419.9 720.48,421.15 720.56,422.4 720.64,423.66 720.72,424.92 720.8,426.19 720.88,427.46 720.96,428.74 721.04,430.03 721.12,431.32 721.2,432.61 721.28,433.91 721.36,435.21 721.44,436.52 721.52,437.84 721.6,439.16 721.68,440.48 721.76,441.81 721.84,443.14 721.92,444.48 722,445.82 722.08,447.16 722.16,448.51 722.24,449.87 722.32,451.23 722.4,452.59 722.48,453.96 722.56,455.33 722.64,456.7 722.72,458.08 722.8,459.46 722.88,460.85 722.96,462.24 723.04,463.63 723.12,465.03 723.2,466.43 723.28,467.83 723.36,469.24 723.44,470.65 723.52,472.06 723.6,473.47 723.68,474.89 723.76,476.31 723.84,477.74 723.92,479.16 724,480.59 724.08,482.03 724.16,483.46 724.24,484.9 724.32,486.34 724.4,487.78 724.48,489.22 724.56,490.67 724.64,492.12 724.72,493.57 724.8,495.02 724.88,496.47 724.96,497.93 725.04,499.38 725.12,500.84 725.2,502.3 725.28,503.76 725.36,505.23 725.44,506.69 725.52,508.16 725.6,509.62 725.68,511.09 725.76,512.56 725.84,514.03 725.92,515.5 726,516.97 726.08,518.44 726.16,519.91 726.24,521.39 726.32,522.86 726.4,524.33 726.48,525.81 726.56,527.28 726.64,528.75 726.72,530.23 726.8,531.7 726.88,533.18 726.96,534.65 727.04,536.12 727.12,537.6 727.2,539.07 727.28,540.54 727.36,542.02 727.44,543.49 727.52,544.96 727.6,546.43 727.68,547.9 727.76,549.37 727.84,550.83 727.92,552.3 728,553.77 728.08,555.23 728.16,556.69 728.24,558.15 728.32,559.61 728.4,561.07 728.48,562.53 728.56,563.99 728.64,565.44 728.72,566.89 728.8,568.34 728.88,569.79 728.96,571.24 729.04,572.68 729.12,574.12 729.2,575.56 729.28,577 729.36,578.44 729.44,579.87 729.52,581.3 729.6,582.73 729.68,584.16 729.76,585.58 729.84,587 729.92,588.42 730,589.83 730.08,591.25 730.16,592.66 730.24,594.06 730.32,595.47 730.4,596.87 730.48,598.26 730.56,599.66 730.64,601.05 730.72,602.44 730.8,603.82 730.88,605.2 730.96,606.58 731.04,607.95 731.12,609.32 731.2,610.69 731.28,612.05 731.36,613.41 731.44,614.76 731.52,616.11 731.6,617.46 731.68,618.8 731.76,620.14 731.84,621.48 731.92,622.81 732,624.14 732.08,625.46 732.16,626.78 732.24,628.09 732.32,629.4 732.4,630.71 732.48,632.01 732.56,633.3 732.64,634.6 732.72,635.88 732.8,637.17 732.88,638.44 732.96,639.72 733.04,640.99 733.12,642.25 733.2,643.51 733.28,644.76 733.36,646.01 733.44,647.26 733.52,648.5 733.6,649.73 733.68,650.96 733.76,652.18 733.84,653.4 733.92,654.62 734,655.83 734.08,657.03 734.16,658.23 734.26,659.72 734.36,661.2 734.46,662.68 734.56,664.14 734.66,665.6 734.76,667.05 734.86,668.49 734.96,669.92 735.06,671.35 735.16,672.76 735.26,674.17 735.36,675.57 735.46,676.96 735.56,678.34 735.66,679.71 735.76,681.07 735.86,682.42 735.96,683.77 736.06,685.11 736.16,686.43 736.26,687.75 736.36,689.06 736.46,690.36 736.56,691.66 736.66,692.94 736.76,694.21 736.86,695.48 736.96,696.73 737.06,697.98 737.16,699.22 737.26,700.45 737.36,701.67 737.46,702.88 737.56,704.08 737.68,705.51 737.8,706.93 737.92,708.34 738.04,709.73 738.16,711.11 738.28,712.48 738.4,713.83 738.52,715.17 738.64,716.5 738.76,717.82 738.88,719.12 739,720.41 739.12,721.69 739.24,722.96 739.36,724.21 739.48,725.45 739.6,726.68 739.72,727.9 739.84,729.11 739.98,730.5 740.12,731.87 740.26,733.23 740.4,734.57 740.54,735.9 740.68,737.21 740.82,738.5 740.96,739.78 741.1,741.05 741.24,742.3 741.38,743.53 741.52,744.75 741.66,745.96 741.82,747.31 741.98,748.65 742.14,749.97 742.3,751.28 742.46,752.56 742.62,753.83 742.78,755.08 742.94,756.31 743.1,757.52 743.26,758.72 743.44,760.04 743.62,761.35 743.8,762.63 743.98,763.9 744.16,765.14 744.34,766.37 744.52,767.57 744.72,768.89 744.92,770.18 745.12,771.45 745.32,772.7 745.52,773.92 745.72,775.12 745.94,776.42 746.16,777.69 746.38,778.94 746.6,780.16 746.82,781.35 747.06,782.62 747.3,783.86 747.54,785.07 747.78,786.26 748.04,787.5 748.3,788.71 748.56,789.89 748.84,791.11 749.12,792.29 749.42,793.51 749.72,794.68 750.04,795.87 750.38,797.07 750.74,798.27 751.12,799.45 751.52,800.6 751.96,801.74 752.44,802.85 753,803.94 753.66,804.95 754.52,805.81 755.68,806.13 756.76,805.55 757.54,804.62 758.16,803.58 758.7,802.48 759.18,801.34 759.62,800.18 760.02,799.02 760.4,797.85 760.76,796.66 761.1,795.49 761.42,794.33 761.74,793.12 762.04,791.95 762.34,790.75 762.64,789.51 762.92,788.32 763.2,787.1 763.48,785.86 763.74,784.69 764,783.5 764.26,782.29 764.52,781.06 764.78,779.81 765.04,778.55 765.28,777.37 765.52,776.19 765.76,774.99 766,773.78 766.24,772.56 766.48,771.34 766.72,770.1 766.96,768.86 767.2,767.62 767.44,766.37 767.68,765.11 767.92,763.85 768.16,762.58 768.4,761.32 768.64,760.04 768.88,758.77 769.12,757.5 769.36,756.22 769.6,754.95 769.84,753.67 770.08,752.39 770.32,751.12 770.56,749.84 770.8,748.57 771.04,747.3 771.28,746.03 771.52,744.76 771.76,743.49 772,742.23 772.24,740.97 772.48,739.72 772.72,738.47 772.96,737.22 773.2,735.97 773.44,734.74 773.68,733.5 773.92,732.27 774.16,731.05 774.4,729.83 774.64,728.61 774.88,727.4 775.12,726.2 775.36,725 775.6,723.81 775.84,722.63 776.08,721.45 776.34,720.18 776.6,718.92 776.86,717.66 777.12,716.41 777.38,715.17 777.64,713.94 777.9,712.72 778.16,711.5 778.42,710.29 778.68,709.09 778.94,707.9 779.2,706.71 779.46,705.54 779.74,704.28 780.02,703.03 780.3,701.8 780.58,700.57 780.86,699.35 781.14,698.14 781.42,696.94 781.7,695.75 781.98,694.58 782.26,693.41 782.56,692.16 782.86,690.93 783.16,689.71 783.46,688.5 783.76,687.3 784.06,686.12 784.36,684.94 784.66,683.77 784.98,682.54 785.3,681.32 785.62,680.12 785.94,678.92 786.26,677.74 786.58,676.57 786.9,675.41 787.24,674.19 787.58,672.99 787.92,671.8 788.26,670.62 788.6,669.45 788.94,668.3 789.3,667.09 789.66,665.9 790.02,664.72 790.38,663.55 790.74,662.4 791.12,661.2 791.5,660.02 791.88,658.85 792.26,657.69 792.64,656.55 793.04,655.36 793.44,654.19 793.84,653.04 794.24,651.9 794.66,650.72 795.08,649.55 795.5,648.4 795.92,647.27 796.36,646.1 796.8,644.95 797.24,643.82 797.68,642.7 798.14,641.54 798.6,640.41 799.06,639.29 799.54,638.15 800.02,637.02 800.5,635.91 801,634.77 801.5,633.65 802,632.55 802.52,631.42 803.04,630.31 803.56,629.22 804.1,628.11 804.64,627.02 805.2,625.91 805.76,624.82 806.32,623.75 806.9,622.67 807.48,621.6 808.08,620.52 808.68,619.46 809.28,618.41 809.9,617.36 810.52,616.33 811.16,615.28 811.8,614.26 812.46,613.22 813.12,612.21 813.8,611.19 814.48,610.19 815.18,609.19 815.88,608.21 816.6,607.22 817.32,606.25 818.06,605.28 818.8,604.33 819.56,603.38 820.34,602.43 821.12,601.5 821.92,600.57 822.72,599.66 823.54,598.76 824.36,597.87 825.2,596.99 826.04,596.13 826.9,595.27 827.76,594.43 828.64,593.6 829.54,592.76 830.44,591.95 831.36,591.15 832.28,590.37 833.22,589.59 834.16,588.83 835.12,588.08 836.08,587.34 837.06,586.62 838.04,585.91 839.04,585.21 840.04,584.53 841.06,583.85 842.08,583.2 843.1,582.56 844.14,581.93 845.18,581.31 846.24,580.7 847.3,580.11 848.36,579.54 849.44,578.97 850.52,578.42 851.6,577.88 852.7,577.35 853.8,576.83 854.9,576.33 856,575.84 857.12,575.36 858.24,574.89 859.36,574.44 860.48,574 861.62,573.56 862.76,573.13 863.9,572.72 865.04,572.32 866.18,571.93 867.32,571.55 868.48,571.17 869.64,570.81 870.8,570.45 871.96,570.11 873.12,569.77 874.28,569.44 875.44,569.13 876.6,568.82 877.78,568.51 878.96,568.21 880.14,567.92 881.32,567.64 882.5,567.36 883.68,567.09 884.86,566.83 886.04,566.58 887.22,566.33 888.4,566.09 889.58,565.85 890.76,565.62 891.94,565.4 893.14,565.18 894.34,564.96 895.54,564.75 896.74,564.55 897.94,564.34 899.14,564.15 900.34,563.96 901.54,563.77 902.74,563.59 903.94,563.41 905.14,563.24 906.34,563.07 907.54,562.91 908.74,562.75 909.94,562.59 911.14,562.44 912.34,562.29 913.54,562.14 914.74,562 915.94,561.86 917.14,561.72 918.34,561.59 919.54,561.46 920.74,561.33 921.94,561.2 923.14,561.08 924.34,560.96 925.54,560.85 926.74,560.73 927.94,560.62 929.14,560.51 930.34,560.4 931.54,560.3 932.74,560.2 933.94,560.1 935.14,560 936.34,559.9 937.54,559.81 938.74,559.71 939.94,559.62 941.14,559.53 942.34,559.45 943.54,559.36 944.74,559.28 945.94,559.2 947.14,559.12 948.34,559.04 949.54,558.96 950.74,558.89 951.94,558.81 953.14,558.74 954.34,558.67 955.54,558.6 956.74,558.53 957.94,558.46 959.14,558.4 960.34,558.33 961.54,558.27 962.74,558.21 963.94,558.15 965.14,558.09 966.34,558.03 967.54,557.97 968.74,557.91 969.94,557.86 971.14,557.8 972.34,557.75 973.54,557.7 974.74,557.64 975.94,557.59 977.14,557.54 978.34,557.49 979.54,557.45 980.74,557.4 981.94,557.35 983.14,557.31 984.34,557.26 985.54,557.22 986.74,557.17 987.94,557.13 989.14,557.09 990.34,557.05 991.54,557.01 992.74,556.97 993.94,556.93 995.14,556.89 996.34,556.85 997.54,556.81 998.74,556.78 999.94,556.74 1001.14,556.7 1002.34,556.67 1003.54,556.64 1004.74,556.6 1005.94,556.57 1007.14,556.53 1008.34,556.5 1009.54,556.47 1010.74,556.44 1011.94,556.41 1013.14,556.38 1014.34,556.35 1015.54,556.32 1016.74,556.29 1017.94,556.26 1019.14,556.23 1020.34,556.2 1021.54,556.18 1022.74,556.15 1023.94,556.12 1025.14,556.1 1026.34,556.07 1027.54,556.05 1028.74,556.02 1029.94,556 1031.14,555.97 1032.34,555.95 1033.54,555.93 1034.74,555.9 1035.94,555.88 1037.14,555.86 1038.34,555.83 1039.54,555.81 1040.74,555.79 1041.94,555.77 1043.14,555.75 1044.34,555.73 1045.54,555.71 1046.74,555.69 1047.94,555.67 1049.14,555.65 1050.34,555.63 1051.54,555.61 1052.74,555.59 1053.94,555.57 1055.14,555.55 1056.34,555.53 1057.54,555.52 1058.74,555.5 1059.94,555.48 1061.14,555.46 1062.34,555.45 1063.54,555.43 1064.74,555.41 1065.94,555.4 1067.14,555.38 1068.34,555.37 1069.54,555.35 1070.74,555.33 1071.94,555.32 1073.14,555.3 1074.34,555.29 1075.54,555.27 1076.74,555.26 1077.94,555.24 1079.14,555.23 1080.34,555.22 1081.54,555.2 1082.74,555.19 1083.94,555.18 1085.14,555.16 1086.34,555.15 1087.54,555.14 1088.74,555.12 1089.94,555.11 1091.14,555.1 1092.34,555.09 1093.54,555.07 1094.74,555.06 1095.94,555.05 1097.14,555.04 1098.34,555.03 1099.54,555.01 1100.74,555 1101.94,554.99 1103.14,554.98 1104.34,554.97 1105.54,554.96 1106.74,554.95 1107.94,554.94 1109.14,554.93 1110.34,554.91 1111.54,554.9 1112.74,554.89 1113.94,554.88 1115.14,554.87 1116.34,554.86 1117.54,554.85 1118.74,554.84 1119.94,554.83 1121.14,554.83 1122.34,554.82 1123.54,554.81 1124.74,554.8 1125.94,554.79 1127.14,554.78 1128.34,554.77 1129.54,554.76 1130.74,554.75 1131.94,554.74 1133.14,554.74 1134.34,554.73 1135.54,554.72 1136.74,554.71 1137.94,554.7 1139.14,554.69 1140.34,554.69 1141.54,554.68 1142.74,554.67 1143.94,554.66 1145.14,554.66 1146.34,554.65 1147.54,554.64 1148.74,554.63 1149.94,554.63 1151.14,554.62 1152.34,554.61 1153.54,554.6 1154.74,554.6 1155.94,554.59 1157.14,554.58 1158.34,554.58 1159.54,554.57 1160.74,554.56 1161.94,554.55 1163.14,554.55 1164.34,554.54 1165.54,554.54 1166.74,554.53 1167.94,554.52 1169.14,554.52 1170.34,554.51 1171.54,554.5 1172.74,554.5 1173.94,554.49 1175.14,554.48 1176.34,554.48 1177.54,554.47 1178.74,554.47 1179.94,554.46 1181.14,554.46 1182.34,554.45 1183.54,554.44 1184.74,554.44 1185.94,554.43 1187.14,554.43 1188.34,554.42 1189.54,554.42 1190.74,554.41 1191.94,554.41 1193.14,554.4 1194.34,554.39 1195.54,554.39 1196.74,554.38 1197.94,554.38 1199.14,554.37 1200.34,554.37 1201.54,554.36 1202.74,554.36 1203.94,554.35 1205.14,554.35 1206.34,554.34 1207.54,554.34 1208.74,554.33 1209.94,554.33 1211.14,554.33 1212.34,554.32 1213.54,554.32 1214.74,554.31 1215.94,554.31 1217.14,554.3 1218.34,554.3 1219.54,554.29 1220.74,554.29 1221.94,554.28 1223.14,554.28 1224.34,554.28 1225.54,554.27 1226.74,554.27 1227.94,554.26 1229.14,554.26 1230.34,554.26 1231.54,554.25 1232.74,554.25 1233.94,554.24 1235.14,554.24 1236.34,554.24 1237.54,554.23 1238.74,554.23 1239.94,554.22 1241.14,554.22 1242.34,554.22 1243.54,554.21 1244.74,554.21 1245.94,554.2 1247.14,554.2 1248.34,554.2 1249.54,554.19 1250.74,554.19 1251.94,554.19 1253.14,554.18 1254.34,554.18 1255.54,554.18 1256.74,554.17 1257.94,554.17 1259.14,554.16 1260.34,554.16 1261.54,554.16 1262.74,554.15 1263.94,554.15 1265.14,554.15 1266.34,554.14 1267.54,554.14 1268.74,554.14 1269.94,554.13 1271.14,554.13 1272.34,554.13 1273.54,554.13 1274.74,554.12 1275.94,554.12 1277.14,554.12 1278.34,554.11 1279.54,554.11 1280.74,554.11 1281.94,554.1 1283.14,554.1 1284.34,554.1 1285.54,554.09 1286.74,554.09 1287.94,554.09 1289.14,554.09 1290.34,554.08 1291.54,554.08 1292.74,554.08 1293.94,554.07 1295.14,554.07 1296.34,554.07 1297.54,554.07 1298.74,554.06 1299.94,554.06 1301.14,554.06 1302.34,554.05 1303.54,554.05 1304.74,554.05 1305.94,554.05 1307.14,554.04 1308.34,554.04 1309.54,554.04 1310.74,554.04 1311.94,554.03 1313.14,554.03 1314.34,554.03 1315.54,554.03 1316.74,554.02 1317.94,554.02 1319.14,554.02 1320.34,554.01 1321.54,554.01 1322.74,554.01 1323.94,554.01 1325.14,554.01 1326.34,554 1327.54,554 1328.74,554 1329.94,554 1331.14,553.99 1332.34,553.99 1333.54,553.99 1334.74,553.99 1335.94,553.98 1337.14,553.98 1338.34,553.98 1339.54,553.98 1340,553.98" fill="none" stroke="#ee0c0c" stroke-width="6.5" stroke-linejoin="round"/>
<path d="M188.5,795.12 189.5,795.25 190.5,794.97 191.5,794.68 192.5,794.87 193.5,794.61 194.5,795.07 195.5,795.63 196.5,794.79 197.5,794.72 198.5,795.21 199.5,795.14 200.5,795.01 201.5,794.53 202.5,794.92 203.5,795.23 204.5,794.3 205.5,794.68 206.5,794.02 207.5,794.28 208.5,794.02 209.5,794.72 210.5,794.24 211.5,794.92 212.5,794.86 213.5,794.69 214.5,793.62 215.5,794.5 216.5,794.7 217.5,794.76 218.5,794 219.5,794.46 220.5,794.22 221.5,794.28 222.5,795.11 223.5,794.25 224.5,794.58 225.5,794.98 226.5,794.3 227.5,794.5 228.5,794.58 229.5,794.54 230.5,793.94 231.5,794.51 232.5,795.07 233.5,793.75 234.5,794.81 235.5,794.46 236.5,794.1 237.5,795.27 238.5,794.7 239.5,793.8 240.5,794.35 241.5,794.56 242.5,794.19 243.5,794.57 244.5,794.21 245.5,794.52 246.5,794.85 247.5,793.88 248.5,794.26 249.5,793.94 250.5,794.18 251.5,793.57 252.5,793.83 253.5,793.98 254.5,794.45 255.5,794.54 256.5,793.41 257.5,793.63 258.5,794.25 259.5,793.05 260.5,793.71 261.5,793.86 262.5,794.44 263.5,794.17 264.5,793.69 265.5,793.65 266.5,793.68 267.5,794.45 268.5,793.55 269.5,793.58 270.5,793.86 271.5,793.62 272.5,793.56 273.5,793.13 274.5,793.6 275.5,793.38 276.5,794.08 277.5,793.83 278.5,793.5 279.5,793.78 280.5,793.3 281.5,793.91 282.5,793.4 283.5,793.64 284.5,792.77 285.5,793.48 286.5,792.54 287.5,792.36 288.5,793.11 289.5,792.82 290.5,793.27 291.5,794.18 292.5,792.77 293.5,792.83 294.5,793.18 295.5,793.28 296.5,792.95 297.5,792.9 298.5,793.28 299.5,793.17 300.5,792.44 301.5,792.84 302.5,792.86 303.5,792.34 304.5,792.9 305.5,792.37 306.5,793.16 307.5,792.78 308.5,792.7 309.5,792.36 310.5,792.54 311.5,791.66 312.5,792.02 313.5,792.66 314.5,791.5 315.5,792.81 316.5,791.61 317.5,792.7 318.5,791.94 319.5,792.64 320.5,792.31 321.5,791.52 322.5,792.74 323.5,792.79 324.5,792.07 325.5,791.94 326.5,791.96 327.5,791.55 328.5,792.44 329.5,791.67 330.5,791.85 331.5,791.47 332.5,791.51 333.5,791.17 334.5,792.27 335.5,791.6 336.5,792.06 337.5,791.59 338.5,791.22 339.5,791.35 340.5,791.2 341.5,791.41 342.5,791.19 343.5,791.18 344.5,790.65 345.5,790.86 346.5,791.92 347.5,790.82 348.5,790.6 349.5,791.18 350.5,791.61 351.5,790.28 352.5,790.79 353.5,790.54 354.5,789.98 355.5,791.06 356.5,790.66 357.5,790.65 358.5,790.23 359.5,790.71 360.5,790.21 361.5,790.33 362.5,789.84 363.5,789.74 364.5,790.83 365.5,789.94 366.5,790.24 367.5,790.03 368.5,789.79 369.5,789.7 370.5,790.15 371.5,789.67 372.5,789.67 373.5,789.68 374.5,790.14 375.5,789.85 376.5,789.65 377.5,789.15 378.5,788.72 379.5,789.7 380.5,789.63 381.5,789.06 382.5,789.3 383.5,789.33 384.5,789.28 385.5,789.25 386.5,788.55 387.5,789.36 388.5,788.04 389.5,788.91 390.5,788.67 391.5,788.76 392.5,789.13 393.5,788.87 394.5,787.6 395.5,787.27 396.5,788.31 397.5,787.4 398.5,787.76 399.5,788.05 400.5,786.84 401.5,786.54 402.5,787.51 403.5,787.32 404.5,787.09 405.5,787.12 406.5,786.62 407.5,786.23 408.5,786.73 409.5,786.27 410.5,785.86 411.5,786.72 412.5,786.36 413.5,786.46 414.5,785.72 415.5,785.76 416.5,785.49 417.5,785.42 418.5,785.79 419.5,785.23 420.5,785.89 421.5,785.75 422.5,787.65 423.5,783.42 424.5,786.03 425.5,784.73 426.5,784.69 427.5,782.83 428.5,783.88 429.5,785.19 430.5,784.06 431.5,784.12 432.5,783.53 433.5,785.12 434.5,783.56 435.5,780.79 436.5,782.45 437.5,780.77 438.5,779.07 439.5,782.18 440.5,784.26" fill="none" stroke="#000" stroke-width="6.2" stroke-linejoin="round" stroke-linecap="round"/>
<path d="M438.5,779.07 439.5,782.18 440.5,784.26 441.5,782.55 442.5,780.93 443.5,781.04 444.5,783.35 445.5,782.02 446.5,781.71 447.5,781.41 448.5,781.35 449.5,782.09 450.5,781.6 451.5,781.02 452.5,779.32 453.5,781 454.5,779.37 455.5,781.31 456.5,778.28 457.5,779.44 458.5,779.4 459.5,777.62 460.5,781.07 461.48,780.56 462.46,778.05 463.44,779.33 464.42,778.65 465.4,774.85 466.38,778.08 467.36,777.5 468.34,777.46 469.32,775.86 470.3,776.62 471.28,776.52 472.26,777.94 473.24,776.71 474.22,776.09 475.2,777.72 476.18,775 477.16,774.99 478.14,773.07 479.12,776.92 480.1,775.99 481.08,775.73 482.06,775.23 483.04,774.36 484.04,774.29 485.04,773.53 486.04,773.39 487.04,773.52 488.04,775.08 489.04,773.76 490.04,772.85 491.04,772.06 492.04,771.84 493.04,774.37 494.04,772.92 495.04,772.26 496.04,771.64 497.04,770.62 498.04,771.77 499.04,772.81 500.04,771.21 501.04,771.35 502.04,771.31 503.04,771.67 504.04,769.6 505.04,771.23 506.04,770.49 507.04,772.6 508.04,770.66 509.04,772.33 510.04,773.54 511.04,771.42 512.04,771.18 513.04,772.25 514.04,772.16 515.04,771.12 516.04,773.03 517.04,775.08 518.04,772.54 519.02,772.81 520,772.01 520.98,773.87 521.96,772.22 522.94,772.62 523.92,775.72 524.9,773.35 525.88,775.98 526.86,776.76 527.84,775.48 528.82,776.07 529.8,777.99 530.78,775.64 531.76,775.38 532.74,774.67 533.74,776.54 534.74,778.44 535.74,777.98 536.74,775.83 537.74,776.05 538.74,776.56 539.74,777.59 540.74,777.03 541.74,777.54 542.74,777.61 543.74,776.85 544.74,777.07 545.74,777.25 546.74,776.75 547.74,777.27 548.72,778.7 549.7,776.92 550.68,775.99 551.64,773.6 552.6,775.75 553.54,772.59 554.48,772.85 555.4,775.16 556.32,774.55 557.22,773.07 558.12,770.72 559,771.85 559.88,770.97 560.74,772.03 561.6,773.44 562.46,770.44 563.3,768.68 564.14,767.64 564.96,768.4 565.78,767.66" fill="none" stroke="#000" stroke-width="8.5" stroke-linejoin="round" stroke-linecap="round"/>
<path d="M564.14,767.64 564.96,768.4 565.78,767.66 566.6,765.88 567.4,766.79 568.2,764.65 569,766.74 569.78,766.05 570.56,765.43 571.34,762.91 572.12,763.44 572.88,762.01 573.64,761.04 574.4,760.42 575.16,758.59 575.92,757.73 576.66,759.73 577.4,757.86 578.14,757.66 578.88,757.89 579.62,753.9 580.34,754.34 581.06,754.79 581.78,754.34 582.5,752.7 583.22,753.66 583.94,751.95 584.64,749.52 585.34,749.14 586.04,750.5 586.74,749.35 587.44,745.78 588.14,748.93 588.84,747.28 589.52,747.44 590.2,744.62 590.88,743.98 591.56,742.23 592.24,745.87 592.92,741.85 593.6,743.2 594.26,739.76 594.92,739.98 595.58,737.01 596.24,737.79 596.9,738.65 597.56,735.19 598.22,737.19 598.88,735.52 599.52,733.09 600.16,732.96 600.8,732.23 601.44,731.93 602.08,730.55 602.72,729.4 603.36,729.22 603.98,727.57 604.6,726.46 605.22,727.15 605.84,727.46 606.46,723.76 607.08,724.78 607.7,723.18 608.3,721.98 608.9,723.37 609.5,720.91 610.1,722.52 610.7,718.96 611.3,719.53 611.9,717.96 612.5,716.49 613.08,717.28 613.66,715.57 614.24,715.65 614.82,714.03 615.4,711.95 615.98,712.28 616.56,711.61 617.14,711.85 617.7,708.78 618.26,708.98 618.82,706.12 619.38,708.12 619.94,705.18 620.5,703.45 621.06,704.69 621.62,705.21 622.16,701.21 622.7,700.89 623.24,700.45 623.78,699.13 624.32,700.07 624.86,697.78 625.4,697.01 625.94,697.7 626.48,695.21 627,695.78 627.52,693.23 628.04,692.08 628.56,690.46 629.08,694.03 629.6,690.53 630.12,690.33 630.64,689.11 631.16,688.45 631.68,687.42 632.2,688.75 632.7,684.35 633.2,682.86 633.7,682.63 634.2,681.37 634.7,682.98 635.2,682.18 635.7,679.16 636.2,677.75 636.7,678.09 637.2,679.29 637.7,673.33 638.2,676.44 638.7,673.61 639.2,675.23 639.68,671.81 640.16,671.88 640.64,669.53 641.12,669.28 641.6,671.23 642.08,669.66 642.56,667.3 643.04,665.84 643.52,663.71 644,664.61 644.48,664.15 644.96,663.18 645.44,662.26 645.92,660.12 646.4,660.48 646.88,659.61 647.36,660.29 647.84,660.07 648.32,656.75 648.8,655.09 649.28,655.01 649.76,653.45 650.24,652.37 650.72,652.28 651.2,650.18 651.68,651.25 652.16,649.48 652.64,648.99 653.12,647.56 653.6,645.99 654.08,644.81 654.56,644.76 655.04,643.47 655.52,643.5 656,642.31 656.48,639.77 656.96,640.59 657.44,637.99 657.92,637.97 658.4,637.46 658.88,634.42 659.36,636.13 659.84,635.32 660.32,634.06 660.8,632.86 661.28,632.04 661.78,630.41 662.28,630.35 662.78,629.11 663.28,628.99 663.78,626.54 664.28,627.38 664.78,626.39 665.28,625.18 665.78,623.95 666.3,624.25 666.82,620.7 667.34,622.37 667.86,621.23 668.38,620.42 668.9,619.68 669.44,617.56 669.98,617.17 670.52,617.38 671.06,616.29 671.62,615.15 672.18,612.24 672.74,613.86 673.32,613.76 673.9,612.73 674.48,610.98 675.08,607.99 675.68,610.18 676.3,608.05 676.92,604.39 677.56,607.08 678.2,604.06 678.86,603.52 679.54,603.55 680.24,605.08 680.94,602.39 681.66,602.47 682.42,603.55 683.2,602.71 684,600.06 684.84,599.32 685.7,597.58 686.6,597.81 687.54,598.79 688.52,598.49 689.52,598.01 690.52,599.09 691.52,597.14 692.48,598.32 693.38,599.72 694.22,600.11 695,601.36 695.72,601.27 696.38,601.19 697,602.81 697.58,602.02 698.12,602.12 698.62,605.65 699.1,605.79 699.56,607.15 700,605.68 700.42,608.23 700.82,608.9 701.2,609.53 701.56,608.8 701.92,612.09 702.26,614.54 702.6,614.92 702.92,614.72 703.24,616.44" fill="none" stroke="#000" stroke-width="10" stroke-linejoin="round" stroke-linecap="round"/>
<path d="M700.82,608.9 701.2,609.53 701.56,608.8 701.92,612.09 702.26,614.54 702.6,614.92 702.92,614.72 703.24,616.44 703.54,618.35 703.84,615.14 704.12,619.28 704.4,621.08 704.68,622.28 704.94,624.49 705.2,624.81 705.46,624.86 705.7,625.82 705.94,627.39 706.18,626.82 706.42,628.46 706.66,630.65 706.88,632.91 707.1,631.37 707.32,632.54 707.54,633.88 707.76,636.32 707.96,635.65 708.16,638.45 708.36,636.55 708.56,638.52 708.76,639.55 708.96,641.79 709.16,643.18 709.34,641.1 709.52,642.81 709.7,645.33 709.88,645.16 710.06,645.16 710.24,649.28 710.42,649.69 710.6,650.76 710.78,650.69 710.96,653.6 711.12,653.06 711.28,655.67 711.44,654.27 711.6,655.36 711.76,657.66 711.92,657.61 712.08,660.31 712.24,660.88 712.4,660.53 712.56,662.8 712.72,663.39 712.88,666.01 713.04,665.26 713.2,666.61 713.36,669.73 713.5,671.96 713.64,672.68 713.78,671.37 713.92,672.57 714.06,675.18 714.2,674.23 714.34,674.25 714.48,676.61 714.62,678.07 714.76,677.6 714.9,677.69 715.04,679.02 715.18,682.63 715.32,682.02 715.46,683.86 715.6,685.39 715.74,687 715.88,686.98 716.02,689.11 716.16,688.58 716.3,690.35 716.44,690.71 716.58,694.46 716.7,694.06 716.82,694.21 716.94,695.68 717.06,696.85 717.18,698.98 717.3,697.24 717.42,698.94 717.54,700.76 717.66,705.29 717.78,704.44 717.9,704.21 718.02,706.25 718.14,708.92 718.26,707.23 718.38,708.13 718.5,711.09 718.62,711.31 718.74,712.6 718.86,712.26 718.98,716.27 719.1,717.1 719.22,716.82 719.34,718.06 719.46,715.91 719.58,720.22 719.7,720.33 719.82,722.2 719.94,723.61 720.06,723.51 720.18,723.02 720.3,726.62 720.42,726.42 720.54,728.05 720.66,728.86 720.78,730.32 720.9,729.11 721.02,734.5 721.14,734.49 721.26,736.68 721.38,738.89 721.5,737.7 721.62,736.68 721.74,738.95 721.86,739.75 721.98,741.77 722.1,743.65 722.22,742.33 722.34,746.34 722.46,745.3 722.58,748.66 722.68,749.17 722.78,749.92 722.88,751.21 722.98,751.65 723.08,752.57 723.18,752.29 723.28,755.28 723.38,758.54 723.48,759.71 723.58,759.93 723.68,760.21 723.78,759.56 723.88,763.12 723.98,762.34 724.08,763.35 724.18,764.1 724.28,765.58 724.38,765.97 724.48,767.42 724.58,767.24 724.68,769.12 724.78,773.34 724.88,771.55 724.98,772.38 725.08,774.33 725.18,775.58 725.28,774.42 725.38,776.55 725.48,778.93 725.58,779.19 725.68,780.05 725.78,782.81 725.88,781.17 725.98,783.12 726.08,783.44 726.18,786.89 726.28,783.8 726.38,786.38 726.48,787.59 726.58,790.07 726.68,791.04 726.78,793.03 726.88,790.52 726.98,794.35 727.08,794.14 727.18,794.74 727.28,797.23 727.38,796.53 727.48,796.19 727.58,799.28 727.68,798.98 727.78,801.04 727.88,803.31 727.98,804.29 728.08,806.86 728.18,805.77 728.28,805.21 728.38,807.19 728.48,808.04 728.58,808.73 728.68,811.76 728.78,811.51 728.88,810.96 728.98,815.21 729.08,815.29 729.18,816.89 729.28,817.63 729.38,819.31 729.48,819.64 729.58,822.12 729.68,822.19 729.78,823.19 729.88,824.25 729.98,823.05 730.08,825.64 730.18,826.56 730.28,828.16 730.38,827.32 730.48,831.94 730.58,831.14 730.68,830.6 730.78,831.03 730.88,833.78 730.98,835.04 731.08,835.31 731.18,837.31 731.28,837.46 731.38,839.92 731.48,839.41 731.58,841.26 731.68,843.5 731.78,846.43 731.88,843.16 731.98,844.83 732.08,845.39 732.18,848.36 732.28,847.05 732.38,848.86 732.48,850.41 732.58,850.28 732.68,851.32 732.78,852.9 732.88,851.95 732.98,853.74 733.08,855.98 733.18,857.65 733.28,858.25 733.4,857.54 733.52,860.3 733.64,863 733.76,863.9 733.88,864.32 734,864.53 734.12,867.53 734.24,867.25 734.36,867.71 734.48,869.32 734.6,873.18 734.72,872.87 734.84,875.15 734.96,874.34 735.08,877.19 735.2,876.49 735.32,878.17 735.44,882.48 735.56,881.56 735.68,881.17 735.8,882.8 735.92,884.42 736.04,886.6 736.16,885.68 736.28,885.29 736.4,888.16 736.52,889.62 736.64,890.84 736.76,893.38 736.88,893.28 737,894.96 737.12,893.75 737.24,897.2 737.36,899.75 737.48,899.24 737.6,899.69 737.72,900.63 737.84,903.65 737.96,901.45 738.08,903.49 738.2,905.22 738.32,906.6 738.44,906.23 738.56,908.15 738.68,908.48 738.8,909.99 738.92,910.7 739.04,910.51 739.16,912.87 739.28,914.95 739.4,913.74 739.52,915.61 739.66,917.85 739.8,916.92 739.94,919.57 740.08,919.22 740.22,922.98 740.36,925.52 740.5,926.29 740.64,924.71 740.78,926.96 740.92,927.32 741.06,928.39 741.2,931.2 741.34,928.84 741.48,932.76 741.62,932.49 741.76,935.3 741.9,934.88 742.04,934.89 742.18,937.06 742.32,938.64 742.46,938.82 742.6,940.37 742.74,940.16 742.88,939.23 743.04,944 743.2,944.88 743.36,945.33 743.52,946.33 743.68,948.59 743.84,947.88 744,948.65 744.16,950.33 744.32,953.04 744.48,950.99 744.64,955.12 744.8,953.94 744.96,954.4 745.12,958.24 745.28,957.6 745.46,957.27 745.64,959.49 745.82,962.12 746,963.5 746.18,962.61 746.36,964.66 746.54,966.06 746.72,965.44 746.9,967.65 747.08,968.18 747.28,968.66 747.48,969.79 747.68,971.51 747.88,972.51 748.08,972.82 748.28,974 748.48,976.84 748.68,976.74 748.9,978.61 749.12,980.03 749.34,980.32 749.56,983.34 749.78,980.61 750.02,983.63 750.26,983.31 750.5,986.93 750.74,987.73 751,984.39 751.26,986.6 751.52,989.56 751.78,990.68 752.06,991.63 752.34,991.66 752.62,993.25 752.92,994.49 753.22,994.58 753.54,996.9 753.86,993.92 754.2,998.38 754.54,997.32 754.9,1000.67 755.28,1000.2 755.68,1000.37 756.1,1002.84 756.54,1002.23 757,1003.14 757.48,1003.24 758,1005.96" fill="none" stroke="#000" stroke-width="6" stroke-linejoin="round" stroke-linecap="round"/>
<path d="M755.68,1000.37 756.1,1002.84 756.54,1002.23 757,1003.14 757.48,1003.24 758,1005.96 758.56,1007.44 759.16,1008.89 759.82,1008.26 760.54,1010.39 761.34,1009.78 762.22,1010.14 763.18,1011.26 764.18,1011.94 765.18,1010.15 766.14,1009.95 767.04,1009.6 767.88,1009.33 768.66,1007.52 769.4,1009.14 770.1,1006.69 770.76,1006.96 771.4,1004.62 772.02,1005.21 772.6,1004.43 773.16,1002.63 773.72,1004.69 774.26,1001.84 774.78,1002.66 775.3,1000.78 775.8,997.95 776.3,997.38" fill="none" stroke="#000" stroke-width="8.5" stroke-linejoin="round" stroke-linecap="round"/>
<path d="M773.72,1004.69 774.26,1001.84 774.78,1002.66 775.3,1000.78 775.8,997.95 776.3,997.38 776.78,997.47 777.26,996.1 777.72,995.19 778.18,993.88 778.64,991.13 779.08,992.13 779.52,988.82 779.96,991.01 780.4,988.75 780.84,987.82 781.26,987.5 781.68,987.16 782.1,984.18 782.52,982.86 782.94,982.73 783.36,980.6 783.76,980.98 784.16,983.12 784.56,979.02 784.96,980.13 785.36,976.76 785.76,977.82 786.16,976.13 786.56,975.49 786.96,975.29 787.36,975.76 787.76,972.92 788.16,971.87 788.56,969.59 788.96,970.48 789.36,968.52 789.74,968.89 790.12,966.91 790.5,968.12 790.88,962.72 791.26,963.82 791.64,964.3 792.02,961.89 792.4,960.43 792.78,960.13 793.16,957.87 793.54,958.74 793.92,960.59 794.3,958.11 794.68,954.47 795.06,953.83 795.44,953.46 795.82,954.23 796.22,951.07 796.62,950.25 797.02,951.17 797.42,950.18 797.82,947.73 798.22,945.87 798.62,944.39 799.02,944.45 799.42,941.66 799.82,944.28 800.22,941.67 800.62,942.05 801.02,942.77 801.42,940.99 801.82,937.26 802.22,938.75 802.62,938.16 803.02,934.95 803.42,933.77 803.82,933.86 804.22,931.15 804.62,933.92 805.04,928.3 805.46,928.91 805.88,928.96 806.3,928.06 806.72,927.59 807.14,926.78 807.56,925.26 807.98,925.95 808.4,921.09 808.82,922.74 809.24,920.96 809.66,921.07 810.08,920.26 810.52,917.96 810.96,917.34 811.4,918.12 811.84,916.66 812.28,914.5 812.72,916.84 813.16,916.25 813.6,910.81 814.04,912.02 814.48,913.77 814.94,910.76 815.4,909.15 815.86,907.71 816.32,906.39 816.78,905.87 817.24,904.56 817.7,905.21 818.16,902.94 818.62,902 819.1,900.16 819.58,900.62 820.06,898.7 820.54,898.65 821.02,899.21 821.5,897.51 821.98,896.79 822.46,895.73 822.96,894.46 823.46,893.33 823.96,892.21 824.46,892.6 824.96,889.5 825.46,891.53 825.96,889.08 826.46,887.27 826.98,886.69 827.5,885.57 828.02,885.69 828.54,883.76 829.06,885.12 829.58,881.95 830.1,879.3 830.64,880.27 831.18,877.86 831.72,879.35 832.26,879.8 832.8,878.45 833.34,875.21 833.88,875.06 834.44,877.23 835,874.62 835.56,873.38 836.12,873.79 836.68,874.62 837.24,872.4 837.8,870.18 838.38,869.58 838.96,869.05 839.54,866.73 840.12,865.36 840.7,865.86 841.28,863.84 841.86,864.08 842.46,863.43 843.06,865.29 843.66,860.63 844.26,860.69 844.86,859.82 845.46,859.74 846.06,859.66 846.68,857 847.3,855.78 847.92,853.99 848.54,854.04 849.16,855 849.78,853.61 850.4,851.55 851.04,851.52 851.68,851.2 852.32,850.97 852.96,848.86 853.6,848.49 854.24,845.83 854.88,845.86 855.54,848.39 856.2,843.04 856.86,844.48 857.52,844.38 858.18,842.9 858.84,841.62 859.5,841.76 860.18,841.05 860.86,840.2 861.54,837.28 862.22,838.61 862.9,837.01 863.58,836.64 864.28,836.82 864.98,836.57 865.68,836.14 866.38,833.73 867.08,834.71 867.78,834.3 868.5,833.53 869.22,833.11 869.94,830.56 870.66,829.82 871.4,830.31 872.14,826.98 872.88,828.18 873.62,826.62 874.38,826.13 875.14,823.81 875.9,824.17 876.68,824.55 877.46,824.99 878.24,824.48 879.04,822.57 879.84,821.82 880.66,820.44 881.48,821.33 882.32,819.96 883.16,820.42 884.02,821.24 884.88,818.57 885.76,816.3 886.64,816.57 887.54,815.38 888.44,815.25 889.36,817.83 890.3,816.14 891.24,813.68 892.2,815.95 893.16,816.37 894.14,814.16 895.12,813.54 896.12,813.75 897.12,814.33 898.12,814.63 899.12,815.19 900.12,815.17 901.12,815.11" fill="none" stroke="#000" stroke-width="10" stroke-linejoin="round" stroke-linecap="round"/>
<path d="M899.12,815.19 900.12,815.17 901.12,815.11 902.12,815.34 903.12,814.54 904.12,811.98 905.12,813.75 906.12,814.41 907.12,813.72 908.12,815.44 909.12,814.09 910.12,813.61 911.1,816.67 912.08,815.95 913.06,815.64 914.04,816.72 915.02,817.12 916,816.49 916.98,813.37 917.96,815.74 918.94,816.23 919.92,815.82 920.9,817.45 921.88,818.85 922.88,817.04 923.88,816.45 924.88,820.42 925.88,817.61 926.88,816.82 927.88,818.71 928.88,819.06 929.88,817.8 930.88,819.68 931.88,818.21 932.88,817.74 933.88,819.1 934.88,819.84 935.88,818.16 936.88,819.3 937.88,818.77 938.88,822.24 939.88,817.94 940.88,820.39 941.88,818.59 942.88,818.41 943.88,819.33 944.88,819.43 945.88,819.75 946.88,818.5 947.88,817.24 948.88,817.17 949.88,818.27 950.88,818.19 951.88,819.01 952.88,817.66 953.88,818.25 954.88,818.61 955.88,816.8 956.88,814.62 957.88,814.79 958.88,814.28 959.88,817.71 960.86,814.59 961.84,816.88 962.82,815.9 963.8,817.05 964.78,815.99 965.76,814.45 966.74,814.13 967.72,814.26 968.7,814.16 969.68,813.11 970.66,813.5 971.64,815.26 972.62,811.08 973.6,813.23 974.58,811.63 975.56,812.73 976.54,813.32 977.52,812.04 978.5,812.83 979.5,809.8 980.5,812.83 981.5,810.58 982.5,811.86 983.5,811.13 984.5,807.62 985.5,809.62 986.5,810.61 987.5,812.02 988.5,810.31 989.5,810.09 990.5,807.91 991.5,811.14 992.5,811.42 993.5,809.11 994.5,808.64 995.5,806.79 996.5,809.62 997.5,811.64 998.5,809.09 999.5,809.58 1000.5,808.56 1001.5,806.57 1002.5,809.2 1003.5,805.96 1004.5,807.03 1005.5,807.47 1006.5,808.05 1007.5,807.34 1008.5,807.16 1009.5,805.64 1010.5,804.87 1011.5,806.35 1012.5,805.29 1013.5,804.44 1014.5,804.36 1015.5,805.16 1016.5,803.39 1017.5,803.87 1018.5,803.4 1019.5,805.46 1020.5,805.6 1021.5,807.4 1022.5,803.08 1023.5,803.94 1024.5,805.74 1025.5,804.27 1026.5,804.02 1027.5,806.35 1028.5,803.79 1029.5,802.7 1030.5,802.4 1031.5,804.27 1032.5,804.13 1033.5,802.02 1034.5,802.38 1035.5,804.1 1036.5,804.06 1037.5,802.49 1038.5,803.92 1039.5,803.76 1040.5,800.84 1041.5,802.51 1042.5,803.3 1043.5,802.02 1044.5,800.05 1045.5,802.3" fill="none" stroke="#000" stroke-width="9" stroke-linejoin="round" stroke-linecap="round"/>
<path d="M1043.5,802.02 1044.5,800.05 1045.5,802.3 1046.5,803.05 1047.5,803.62 1048.5,800.52 1049.5,804.28 1050.5,801.21 1051.5,802.79 1052.5,802.93 1053.5,802.65 1054.5,801.91 1055.5,800.78 1056.5,802.14 1057.5,800.99 1058.5,799.47 1059.5,803.67 1060.5,801.9 1061.5,802.72 1062.5,800.47 1063.5,802.3 1064.5,802.33 1065.5,802.23 1066.5,800.9 1067.5,799.89 1068.5,800.64 1069.5,798.96 1070.5,799.29 1071.5,800.67 1072.5,799.74 1073.5,800.33 1074.5,800.32 1075.5,801.89 1076.5,801.32 1077.5,800.19 1078.5,801.13 1079.5,799.48 1080.5,799.78 1081.5,800.72 1082.5,798.94 1083.5,799.66 1084.5,798.77 1085.5,799.86 1086.5,801.02 1087.5,799.06 1088.5,799.79 1089.5,798.84 1090.5,798.59 1091.5,798.47 1092.5,800.57 1093.5,801.25 1094.5,799.69 1095.5,798.68 1096.5,799.77 1097.5,798.89 1098.5,799.75 1099.5,799.3 1100.5,799.15" fill="none" stroke="#000" stroke-width="7" stroke-linejoin="round" stroke-linecap="round"/>
<path d="M1098.5,799.75 1099.5,799.3 1100.5,799.15 1101.5,799.25 1102.5,798.67 1103.5,798.7 1104.5,798.07 1105.5,798.6 1106.5,798.11 1107.5,798.64 1108.5,798.24 1109.5,798.67 1110.5,798.79 1111.5,797.9 1112.5,798.13 1113.5,798.03 1114.5,798.76 1115.5,799.15 1116.5,798.72 1117.5,798.14 1118.5,798.92 1119.5,797.54 1120.5,798.86 1121.5,797.85 1122.5,796.86 1123.5,799.27 1124.5,798.75 1125.5,797.54 1126.5,798.04 1127.5,797.83 1128.5,797.94 1129.5,797.19 1130.5,797.52 1131.5,798 1132.5,797.86 1133.5,798.26 1134.5,797.73 1135.5,798.72 1136.5,797.3 1137.5,797.71 1138.5,796.7 1139.5,796.97 1140.5,798.1 1141.5,797.04 1142.5,797.67 1143.5,797.38 1144.5,796.9 1145.5,797.19 1146.5,797.08 1147.5,797.07 1148.5,797.59 1149.5,797.52 1150.5,796.94 1151.5,796.76 1152.5,797.27 1153.5,797.07 1154.5,797.55 1155.5,798.25 1156.5,797.41 1157.5,796.99 1158.5,796.9 1159.5,796.56 1160.5,796.51 1161.5,796.44 1162.5,796.69 1163.5,796.65 1164.5,797.15 1165.5,796.61 1166.5,796.68 1167.5,796.19 1168.5,797.46 1169.5,796.92 1170.5,797.47 1171.5,797 1172.5,797.29 1173.5,796.48 1174.5,796.9 1175.5,797.77 1176.5,795.98 1177.5,797.03 1178.5,797.24 1179.5,796.65 1180.5,796.78 1181.5,796.99 1182.5,796.09 1183.5,796.56 1184.5,795.95 1185.5,796.01 1186.5,796.02 1187.5,796.21 1188.5,796.33 1189.5,796.45 1190.5,795.56 1191.5,797.11 1192.5,796.71 1193.5,796.49 1194.5,795.97 1195.5,796.07 1196.5,796.35 1197.5,796.26 1198.5,795.28 1199.5,796.38 1200.5,797.36 1201.5,795.14 1202.5,796.44 1203.5,796.13 1204.5,795.89 1205.5,796.55 1206.5,795.36 1207.5,795.96 1208.5,796.54 1209.5,795.75 1210.5,795.63 1211.5,795.86 1212.5,795.59 1213.5,796.49 1214.5,795.34 1215.5,796.14 1216.5,795.14 1217.5,796.01 1218.5,795.64 1219.5,794.47 1220.5,795.65 1221.5,795.14 1222.5,795.41 1223.5,796.31 1224.5,795.07 1225.5,795.08 1226.5,796.22 1227.5,795.59 1228.5,796.23 1229.5,795.65 1230.5,795.08 1231.5,795.44 1232.5,796.03 1233.5,795.88 1234.5,795.43 1235.5,795.43 1236.5,795.34 1237.5,795.11 1238.5,796.26 1239.5,795.35 1240.5,794.81 1241.5,795.1 1242.5,795.64 1243.5,795.59 1244.5,795.21 1245.5,794.95 1246.5,795.26 1247.5,794.46 1248.5,794.61 1249.5,795.57 1250.5,794.97 1251.5,795.35 1252.5,795.72 1253.5,795.45 1254.5,795.14 1255.5,796.1 1256.5,795.41 1257.5,794.93 1258.5,795.42 1259.5,795.25 1260.5,794.66 1261.5,795.07 1262.5,794.95 1263.5,794.1 1264.5,794.92 1265.5,794.85 1266.5,794.77 1267.5,794.2 1268.5,794.78 1269.5,794.92 1270.5,794.97 1271.5,794.38 1272.5,795.19 1273.5,794.32 1274.5,794.77 1275.5,795.46 1276.5,794.53 1277.5,794.6 1278.5,795.32 1279.5,794.63 1280.5,794.66 1281.5,794.89 1282.5,795.26 1283.5,793.74 1284.5,794.37 1285.5,794.27 1286.5,794.23 1287.5,794.32 1288.5,794.32 1289.5,794.83 1290.5,794.27 1291.5,794.73 1292.5,794.85 1293.5,794.31 1294.5,794.7 1295.5,795.38 1296.5,794.76 1297.5,794.31 1298.5,794.56 1299.5,794.16 1300.5,794.7 1301.5,794.96 1302.5,794.17 1303.5,794.44 1304.5,795.04 1305.5,794.29 1306.5,794.59 1307.5,794.03 1308.5,794.11 1309.5,794.24 1310.5,795.45 1311.5,794.27 1312.5,794.21 1313.5,794.18 1314.5,794.35 1315.5,794.71 1316.5,794.49 1317.5,795.32 1318.5,794.48 1319.5,795.03 1320.5,794.49 1321.5,794.63 1322.5,793.7 1323.5,794.28 1324.5,794.3 1325.5,794.21 1326.5,793.34 1327.5,794.69 1328.5,794.11 1329.5,794.08 1330.5,794.15 1331.5,794.16 1332.5,794.43 1333.5,793.67 1334.5,793.81 1335.5,794.35 1336.5,794.28 1337.5,794.04 1338.5,793.94 1339.5,793.81 1340,794.16" fill="none" stroke="#000" stroke-width="6.5" stroke-linejoin="round" stroke-linecap="round"/>
<path d="M188.5,1034.1 189.7,1034.09 190.9,1034.09 192.1,1034.09 193.3,1034.08 194.5,1034.08 195.7,1034.07 196.9,1034.07 198.1,1034.06 199.3,1034.06 200.5,1034.05 201.7,1034.05 202.9,1034.04 204.1,1034.04 205.3,1034.03 206.5,1034.03 207.7,1034.02 208.9,1034.02 210.1,1034.01 211.3,1034.01 212.5,1034 213.7,1034 214.9,1033.99 216.1,1033.99 217.3,1033.98 218.5,1033.97 219.7,1033.97 220.9,1033.96 222.1,1033.96 223.3,1033.95 224.5,1033.94 225.7,1033.94 226.9,1033.93 228.1,1033.93 229.3,1033.92 230.5,1033.91 231.7,1033.91 232.9,1033.9 234.1,1033.89 235.3,1033.89 236.5,1033.88 237.7,1033.87 238.9,1033.87 240.1,1033.86 241.3,1033.85 242.5,1033.84 243.7,1033.84 244.9,1033.83 246.1,1033.82 247.3,1033.81 248.5,1033.81 249.7,1033.8 250.9,1033.79 252.1,1033.78 253.3,1033.78 254.5,1033.77 255.7,1033.76 256.9,1033.75 258.1,1033.74 259.3,1033.73 260.5,1033.72 261.7,1033.72 262.9,1033.71 264.1,1033.7 265.3,1033.69 266.5,1033.68 267.7,1033.67 268.9,1033.66 270.1,1033.65 271.3,1033.64 272.5,1033.63 273.7,1033.62 274.9,1033.61 276.1,1033.6 277.3,1033.59 278.5,1033.58 279.7,1033.57 280.9,1033.56 282.1,1033.55 283.3,1033.54 284.5,1033.53 285.7,1033.52 286.9,1033.51 288.1,1033.49 289.3,1033.48 290.5,1033.47 291.7,1033.46 292.9,1033.45 294.1,1033.43 295.3,1033.42 296.5,1033.41 297.7,1033.4 298.9,1033.38 300.1,1033.37 301.3,1033.36 302.5,1033.35 303.7,1033.33 304.9,1033.32 306.1,1033.3 307.3,1033.29 308.5,1033.28 309.7,1033.26 310.9,1033.25 312.1,1033.23 313.3,1033.22 314.5,1033.2 315.7,1033.19 316.9,1033.17 318.1,1033.16 319.3,1033.14 320.5,1033.13 321.7,1033.11 322.9,1033.09 324.1,1033.08 325.3,1033.06 326.5,1033.04 327.7,1033.03 328.9,1033.01 330.1,1032.99 331.3,1032.97 332.5,1032.96 333.7,1032.94 334.9,1032.92 336.1,1032.9 337.3,1032.88 338.5,1032.86 339.7,1032.84 340.9,1032.82 342.1,1032.8 343.3,1032.78 344.5,1032.76 345.7,1032.74 346.9,1032.72 348.1,1032.7 349.3,1032.68 350.5,1032.66 351.7,1032.64 352.9,1032.61 354.1,1032.59 355.3,1032.57 356.5,1032.54 357.7,1032.52 358.9,1032.5 360.1,1032.47 361.3,1032.45 362.5,1032.42 363.7,1032.4 364.9,1032.37 366.1,1032.35 367.3,1032.32 368.5,1032.29 369.7,1032.27 370.9,1032.24 372.1,1032.21 373.3,1032.18 374.5,1032.16 375.7,1032.13 376.9,1032.1 378.1,1032.07 379.3,1032.04 380.5,1032.01 381.7,1031.98 382.9,1031.95 384.1,1031.92 385.3,1031.88 386.5,1031.85 387.7,1031.82 388.9,1031.79 390.1,1031.75 391.3,1031.72 392.5,1031.68 393.7,1031.65 394.9,1031.61 396.1,1031.57 397.3,1031.54 398.5,1031.5 399.7,1031.46 400.9,1031.42 402.1,1031.39 403.3,1031.35 404.5,1031.31 405.7,1031.27 406.9,1031.22 408.1,1031.18 409.3,1031.14 410.5,1031.1 411.7,1031.05 412.9,1031.01 414.1,1030.96 415.3,1030.92 416.5,1030.87 417.7,1030.83 418.9,1030.78 420.1,1030.73 421.3,1030.68 422.5,1030.63 423.7,1030.58 424.9,1030.53 426.1,1030.48 427.3,1030.42 428.5,1030.37 429.7,1030.32 430.9,1030.26 432.1,1030.21 433.3,1030.15 434.5,1030.09 435.7,1030.03 436.9,1029.97 438.1,1029.91 439.3,1029.85 440.5,1029.79 441.7,1029.72 442.9,1029.66 444.1,1029.59 445.3,1029.53 446.5,1029.46 447.7,1029.39 448.9,1029.32 450.1,1029.25 451.3,1029.18 452.5,1029.1 453.7,1029.03 454.9,1028.96 456.1,1028.88 457.3,1028.8 458.5,1028.72 459.7,1028.64 460.9,1028.56 462.1,1028.47 463.3,1028.39 464.5,1028.3 465.7,1028.22 466.9,1028.13 468.1,1028.04 469.3,1027.94 470.5,1027.85 471.7,1027.76 472.9,1027.66 474.1,1027.56 475.3,1027.46 476.5,1027.36 477.7,1027.25 478.9,1027.15 480.1,1027.04 481.3,1026.93 482.5,1026.82 483.7,1026.71 484.9,1026.59 486.1,1026.48 487.3,1026.36 488.5,1026.24 489.7,1026.11 490.9,1025.99 492.1,1025.86 493.3,1025.73 494.5,1025.59 495.7,1025.46 496.9,1025.32 498.1,1025.18 499.3,1025.04 500.5,1024.89 501.7,1024.74 502.9,1024.59 504.1,1024.44 505.3,1024.28 506.5,1024.12 507.7,1023.96 508.9,1023.79 510.1,1023.63 511.3,1023.45 512.5,1023.28 513.7,1023.1 514.9,1022.92 516.1,1022.73 517.3,1022.54 518.5,1022.35 519.7,1022.15 520.9,1021.95 522.1,1021.74 523.3,1021.53 524.5,1021.32 525.7,1021.1 526.88,1020.88 528.06,1020.66 529.24,1020.43 530.42,1020.2 531.6,1019.96 532.78,1019.72 533.96,1019.48 535.14,1019.22 536.32,1018.97 537.5,1018.7 538.68,1018.44 539.86,1018.16 541.04,1017.89 542.22,1017.6 543.4,1017.31 544.58,1017.01 545.76,1016.71 546.94,1016.4 548.1,1016.09 549.26,1015.77 550.42,1015.45 551.58,1015.11 552.74,1014.78 553.9,1014.43 555.06,1014.08 556.22,1013.72 557.38,1013.35 558.54,1012.97 559.68,1012.59 560.82,1012.21 561.96,1011.81 563.1,1011.41 564.24,1010.99 565.38,1010.57 566.52,1010.14 567.64,1009.71 568.76,1009.27 569.88,1008.81 571,1008.35 572.12,1007.88 573.24,1007.4 574.34,1006.91 575.44,1006.42 576.54,1005.91 577.64,1005.39 578.74,1004.86 579.82,1004.33 580.9,1003.79 581.98,1003.23 583.06,1002.67 584.12,1002.1 585.18,1001.52 586.24,1000.92 587.3,1000.31 588.34,999.71 589.38,999.08 590.42,998.45 591.44,997.81 592.46,997.16 593.48,996.49 594.48,995.83 595.48,995.15 596.48,994.45 597.46,993.76 598.44,993.05 599.42,992.32 600.38,991.6 601.34,990.86 602.3,990.1 603.24,989.35 604.18,988.58 605.12,987.79 606.04,987 606.96,986.2 607.86,985.4 608.76,984.59 609.66,983.75 610.54,982.92 611.42,982.08 612.28,981.24 613.14,980.38 614,979.5 614.84,978.63 615.68,977.74 616.5,976.86 617.32,975.96 618.14,975.05 618.94,974.14 619.74,973.21 620.52,972.3 621.3,971.36 622.08,970.41 622.84,969.47 623.6,968.51 624.34,967.56 625.08,966.6 625.82,965.62 626.54,964.65 627.26,963.67 627.98,962.67 628.68,961.68 629.38,960.67 630.06,959.68 630.74,958.68 631.42,957.66 632.08,956.65 632.74,955.63 633.4,954.6 634.04,953.58 634.68,952.55 635.32,951.5 635.94,950.47 636.56,949.43 637.18,948.37 637.8,947.3 638.4,946.25 639,945.19 639.6,944.11 640.18,943.06 640.76,941.99 641.34,940.91 641.92,939.82 642.48,938.75 643.04,937.66 643.6,936.57 644.16,935.46 644.7,934.38 645.24,933.29 645.78,932.18 646.32,931.07 646.84,929.98 647.36,928.88 647.88,927.77 648.4,926.65 648.92,925.52 649.42,924.41 649.92,923.3 650.42,922.18 650.92,921.05 651.42,919.9 651.9,918.79 652.38,917.67 652.86,916.55 653.34,915.41 653.82,914.26 654.28,913.15 654.74,912.03 655.2,910.9 655.66,909.76 656.12,908.61 656.58,907.46 657.04,906.29 657.48,905.17 657.92,904.03 658.36,902.89 658.8,901.75 659.24,900.59 659.68,899.43 660.12,898.26 660.54,897.13 660.96,896 661.38,894.86 661.8,893.71 662.22,892.56 662.64,891.4 663.06,890.23 663.48,889.06 663.9,887.88 664.32,886.7 664.72,885.56 665.12,884.42 665.52,883.28 665.92,882.13 666.32,880.97 666.72,879.81 667.12,878.65 667.52,877.48 667.92,876.31 668.32,875.13 668.72,873.95 669.12,872.77 669.52,871.58 669.92,870.39 670.32,869.2 670.72,868 671.12,866.81 671.5,865.67 671.88,864.52 672.26,863.38 672.64,862.24 673.02,861.09 673.4,859.95 673.78,858.8 674.16,857.66 674.54,856.51 674.92,855.37 675.3,854.22 675.68,853.08 676.06,851.94 676.46,850.74 676.86,849.55 677.26,848.36 677.66,847.17 678.06,845.99 678.46,844.81 678.86,843.63 679.26,842.47 679.66,841.31 680.06,840.15 680.46,839.01 680.86,837.87 681.28,836.68 681.7,835.51 682.12,834.35 682.54,833.2 682.96,832.06 683.4,830.88 683.84,829.72 684.28,828.58 684.72,827.46 685.18,826.31 685.64,825.18 686.12,824.03 686.6,822.9 687.1,821.76 687.6,820.66 688.12,819.55 688.66,818.44 689.22,817.34 689.8,816.25 690.4,815.2 691.04,814.15 691.72,813.14 692.44,812.17 693.24,811.24 694.12,810.4 695.12,809.7 696.26,809.27 697.46,809.26 698.58,809.71 699.54,810.47 700.34,811.38 701.04,812.39 701.66,813.47 702.2,814.54 702.7,815.66 703.16,816.8 703.6,817.98 704,819.13 704.38,820.3 704.74,821.48 705.08,822.65 705.4,823.82 705.72,825.03 706.02,826.22 706.32,827.46 706.6,828.66 706.88,829.9 707.14,831.09 707.4,832.32 707.66,833.59 707.9,834.8 708.14,836.04 708.38,837.31 708.6,838.51 708.82,839.73 709.04,840.98 709.26,842.26 709.46,843.45 709.66,844.66 709.86,845.9 710.06,847.16 710.26,848.44 710.46,849.75 710.64,850.95 710.82,852.16 711,853.4 711.18,854.65 711.36,855.93 711.54,857.22 711.72,858.53 711.9,859.87 712.06,861.07 712.22,862.28 712.38,863.52 712.54,864.76 712.7,866.03 712.86,867.3 713.02,868.6 713.18,869.9 713.34,871.23 713.5,872.57 713.66,873.92 713.8,875.12 713.94,876.33 714.08,877.55 714.22,878.78 714.36,880.02 714.5,881.28 714.64,882.54 714.78,883.82 714.92,885.11 715.06,886.41 715.2,887.72 715.34,889.04 715.48,890.38 715.62,891.72 715.76,893.08 715.9,894.44 716.04,895.82 716.18,897.21 716.3,898.41 716.42,899.62 716.54,900.83 716.66,902.05 716.78,903.28 716.9,904.52 717.02,905.77 717.14,907.02 717.26,908.28 717.38,909.55 717.5,910.83 717.62,912.11 717.74,913.4 717.86,914.7 717.98,916.01 718.1,917.32 718.22,918.64 718.34,919.97 718.46,921.3 718.58,922.64 718.7,923.99 718.82,925.34 718.94,926.71 719.06,928.07 719.18,929.45 719.3,930.83 719.42,932.22 719.54,933.61 719.66,935.02 719.78,936.42 719.9,937.84 720.02,939.26 720.14,940.68 720.26,942.11 720.36,943.31 720.46,944.51 720.56,945.72 720.66,946.93 720.76,948.14 720.86,949.36 720.96,950.58 721.06,951.81 721.16,953.04 721.26,954.27 721.36,955.51 721.46,956.75 721.56,957.99 721.66,959.24 721.76,960.49 721.86,961.74 721.96,963 722.06,964.26 722.16,965.52 722.26,966.79 722.36,968.06 722.46,969.33 722.56,970.61 722.66,971.89 722.76,973.17 722.86,974.46 722.96,975.74 723.06,977.03 723.16,978.33 723.26,979.62 723.36,980.92 723.46,982.22 723.56,983.52 723.66,984.83 723.76,986.14 723.86,987.45 723.96,988.76 724.06,990.07 724.16,991.39 724.26,992.71 724.36,994.03 724.46,995.35 724.56,996.67 724.66,998 724.76,999.32 724.86,1000.65 724.96,1001.98 725.06,1003.31 725.16,1004.65 725.26,1005.98 725.36,1007.32 725.46,1008.65 725.56,1009.99 725.66,1011.33 725.76,1012.67 725.86,1014.01 725.96,1015.35 726.06,1016.69 726.16,1018.04 726.26,1019.38 726.36,1020.73 726.46,1022.07 726.56,1023.42 726.66,1024.76 726.76,1026.11 726.86,1027.46 726.96,1028.8 727.06,1030.15 727.16,1031.5 727.26,1032.84 727.36,1034.19 727.46,1035.54 727.56,1036.88 727.66,1038.23 727.76,1039.57 727.86,1040.92 727.96,1042.26 728.06,1043.61 728.16,1044.95 728.26,1046.29 728.36,1047.63 728.46,1048.97 728.56,1050.31 728.66,1051.65 728.76,1052.99 728.86,1054.33 728.96,1055.66 729.06,1057 729.16,1058.33 729.26,1059.66 729.36,1060.99 729.46,1062.32 729.56,1063.65 729.66,1064.97 729.76,1066.3 729.86,1067.62 729.96,1068.94 730.06,1070.26 730.16,1071.57 730.26,1072.88 730.36,1074.2 730.46,1075.51 730.56,1076.81 730.66,1078.12 730.76,1079.42 730.86,1080.72 730.96,1082.02 731.06,1083.31 731.16,1084.6 731.26,1085.89 731.36,1087.18 731.46,1088.46 731.56,1089.74 731.66,1091.02 731.76,1092.29 731.86,1093.56 731.96,1094.83 732.06,1096.1 732.16,1097.36 732.26,1098.62 732.36,1099.87 732.46,1101.12 732.56,1102.37 732.66,1103.61 732.76,1104.85 732.86,1106.09 732.96,1107.32 733.06,1108.55 733.16,1109.78 733.26,1111 733.36,1112.21 733.46,1113.43 733.56,1114.64 733.66,1115.84 733.76,1117.04 733.86,1118.24 733.98,1119.67 734.1,1121.09 734.22,1122.51 734.34,1123.92 734.46,1125.32 734.58,1126.72 734.7,1128.11 734.82,1129.49 734.94,1130.87 735.06,1132.24 735.18,1133.6 735.3,1134.96 735.42,1136.31 735.54,1137.65 735.66,1138.98 735.78,1140.31 735.9,1141.63 736.02,1142.94 736.14,1144.24 736.26,1145.54 736.38,1146.82 736.5,1148.1 736.62,1149.38 736.74,1150.64 736.86,1151.9 736.98,1153.14 737.1,1154.38 737.22,1155.62 737.34,1156.84 737.46,1158.05 737.58,1159.26 737.7,1160.46 737.84,1161.85 737.98,1163.22 738.12,1164.59 738.26,1165.94 738.4,1167.28 738.54,1168.61 738.68,1169.93 738.82,1171.23 738.96,1172.53 739.1,1173.81 739.24,1175.08 739.38,1176.33 739.52,1177.58 739.66,1178.81 739.8,1180.03 739.94,1181.24 740.08,1182.44 740.24,1183.79 740.4,1185.12 740.56,1186.44 740.72,1187.75 740.88,1189.03 741.04,1190.3 741.2,1191.56 741.36,1192.79 741.52,1194.02 741.68,1195.22 741.86,1196.56 742.04,1197.87 742.22,1199.17 742.4,1200.44 742.58,1201.7 742.76,1202.93 742.94,1204.14 743.12,1205.33 743.32,1206.64 743.52,1207.91 743.72,1209.16 743.92,1210.39 744.12,1211.59 744.34,1212.88 744.56,1214.14 744.78,1215.38 745,1216.58 745.24,1217.86 745.48,1219.1 745.72,1220.31 745.96,1221.49 746.22,1222.73 746.48,1223.92 746.76,1225.17 747.04,1226.37 747.34,1227.61 747.64,1228.8 747.96,1230.02 748.28,1231.18 748.62,1232.35 748.98,1233.53 749.36,1234.7 749.76,1235.86 750.18,1236.99 750.64,1238.14 751.14,1239.27 751.68,1240.38 752.28,1241.46 752.94,1242.48 753.68,1243.44 754.54,1244.3 755.54,1244.99 756.68,1245.41 757.88,1245.47 759.06,1245.19 760.16,1244.66 761.16,1243.98 762.08,1243.21 762.94,1242.36 763.76,1241.46 764.54,1240.52 765.28,1239.57 766,1238.59 766.7,1237.58 767.38,1236.56 768.04,1235.53 768.68,1234.5 769.3,1233.47 769.92,1232.41 770.52,1231.37 771.12,1230.3 771.7,1229.25 772.28,1228.18 772.86,1227.1 773.42,1226.03 773.98,1224.95 774.54,1223.86 775.1,1222.76 775.64,1221.68 776.18,1220.59 776.72,1219.49 777.26,1218.39 777.8,1217.27 778.32,1216.19 778.84,1215.1 779.36,1214 779.88,1212.89 780.4,1211.78 780.92,1210.67 781.44,1209.54 781.96,1208.42 782.48,1207.28 782.98,1206.19 783.48,1205.09 783.98,1203.99 784.48,1202.89 784.98,1201.78 785.48,1200.67 785.98,1199.56 786.48,1198.45 786.98,1197.33 787.48,1196.21 787.98,1195.09 788.48,1193.97 788.98,1192.85 789.48,1191.73 789.98,1190.6 790.48,1189.48 790.98,1188.36 791.48,1187.23 791.98,1186.11 792.48,1184.99 792.98,1183.87 793.48,1182.75 793.98,1181.63 794.48,1180.51 794.98,1179.4 795.48,1178.29 795.98,1177.18 796.48,1176.07 796.98,1174.96 797.48,1173.86 797.98,1172.76 798.48,1171.66 798.98,1170.57 799.5,1169.43 800.02,1168.3 800.54,1167.18 801.06,1166.06 801.58,1164.94 802.1,1163.83 802.62,1162.72 803.14,1161.62 803.66,1160.52 804.18,1159.43 804.7,1158.34 805.24,1157.22 805.78,1156.1 806.32,1154.99 806.86,1153.89 807.4,1152.79 807.94,1151.7 808.48,1150.62 809.02,1149.54 809.58,1148.43 810.14,1147.33 810.7,1146.23 811.26,1145.14 811.82,1144.06 812.38,1142.99 812.94,1141.93 813.52,1140.83 814.1,1139.75 814.68,1138.67 815.26,1137.6 815.84,1136.54 816.44,1135.46 817.04,1134.38 817.64,1133.31 818.24,1132.25 818.84,1131.2 819.46,1130.13 820.08,1129.07 820.7,1128.01 821.32,1126.97 821.94,1125.94 822.58,1124.88 823.22,1123.84 823.86,1122.8 824.5,1121.78 825.16,1120.74 825.82,1119.71 826.48,1118.68 827.14,1117.67 827.82,1116.65 828.5,1115.63 829.18,1114.62 829.86,1113.63 830.56,1112.62 831.26,1111.62 831.96,1110.64 832.68,1109.63 833.4,1108.64 834.12,1107.67 834.84,1106.7 835.58,1105.72 836.32,1104.76 837.06,1103.8 837.82,1102.84 838.58,1101.88 839.34,1100.94 840.12,1099.99 840.9,1099.05 841.68,1098.13 842.46,1097.21 843.26,1096.29 844.06,1095.38 844.86,1094.48 845.68,1093.58 846.5,1092.68 847.32,1091.8 848.16,1090.91 849,1090.03 849.84,1089.17 850.7,1088.3 851.56,1087.44 852.42,1086.6 853.3,1085.75 854.18,1084.91 855.06,1084.08 855.96,1083.25 856.86,1082.43 857.76,1081.63 858.68,1080.81 859.6,1080.02 860.52,1079.23 861.44,1078.46 862.38,1077.68 863.32,1076.92 864.26,1076.16 865.22,1075.41 866.18,1074.67 867.14,1073.94 868.12,1073.2 869.1,1072.48 870.08,1071.78 871.06,1071.08 872.06,1070.39 873.06,1069.7 874.06,1069.03 875.08,1068.36 876.1,1067.71 877.12,1067.07 878.16,1066.42 879.2,1065.8 880.24,1065.18 881.28,1064.59 882.34,1063.99 883.4,1063.41 884.46,1062.84 885.54,1062.28 886.62,1061.73 887.7,1061.2 888.8,1060.68 889.9,1060.17 891,1059.68 892.12,1059.19 893.24,1058.73 894.36,1058.28 895.48,1057.84 896.62,1057.41 897.76,1057.01 898.9,1056.61 900.04,1056.24 901.2,1055.87 902.36,1055.52 903.52,1055.18 904.68,1054.86 905.86,1054.55 907.04,1054.25 908.22,1053.97 909.4,1053.7 910.58,1053.45 911.76,1053.2 912.94,1052.97 914.12,1052.74 915.32,1052.53 916.52,1052.32 917.72,1052.12 918.92,1051.93 920.12,1051.75 921.32,1051.57 922.52,1051.4 923.72,1051.24 924.92,1051.08 926.12,1050.92 927.32,1050.77 928.52,1050.62 929.72,1050.48 930.92,1050.33 932.12,1050.19 933.32,1050.06 934.52,1049.92 935.72,1049.79 936.92,1049.65 938.12,1049.52 939.32,1049.39 940.52,1049.26 941.72,1049.13 942.92,1049 944.12,1048.87 945.32,1048.74 946.52,1048.62 947.72,1048.49 948.92,1048.36 950.12,1048.24 951.32,1048.11 952.52,1047.99 953.72,1047.86 954.92,1047.74 956.12,1047.61 957.32,1047.49 958.52,1047.37 959.72,1047.24 960.92,1047.12 962.12,1047 963.32,1046.88 964.52,1046.76 965.72,1046.64 966.92,1046.53 968.12,1046.41 969.32,1046.29 970.52,1046.18 971.72,1046.06 972.92,1045.95 974.12,1045.84 975.32,1045.73 976.52,1045.62 977.72,1045.51 978.92,1045.4 980.12,1045.29 981.32,1045.19 982.52,1045.08 983.72,1044.98 984.92,1044.88 986.12,1044.78 987.32,1044.68 988.52,1044.58 989.72,1044.48 990.92,1044.38 992.12,1044.29 993.32,1044.19 994.52,1044.1 995.72,1044.01 996.92,1043.92 998.12,1043.83 999.32,1043.74 1000.52,1043.66 1001.72,1043.57 1002.92,1043.49 1004.12,1043.4 1005.32,1043.32 1006.52,1043.24 1007.72,1043.16 1008.92,1043.08 1010.12,1043 1011.32,1042.92 1012.52,1042.85 1013.72,1042.77 1014.92,1042.7 1016.12,1042.63 1017.32,1042.56 1018.52,1042.49 1019.72,1042.42 1020.92,1042.35 1022.12,1042.28 1023.32,1042.21 1024.52,1042.15 1025.72,1042.08 1026.92,1042.02 1028.12,1041.96 1029.32,1041.9 1030.52,1041.84 1031.72,1041.78 1032.92,1041.72 1034.12,1041.66 1035.32,1041.6 1036.52,1041.54 1037.72,1041.49 1038.92,1041.43 1040.12,1041.38 1041.32,1041.33 1042.52,1041.27 1043.72,1041.22 1044.92,1041.17 1046.12,1041.12 1047.32,1041.07 1048.52,1041.02 1049.72,1040.97 1050.92,1040.93 1052.12,1040.88 1053.32,1040.83 1054.52,1040.79 1055.72,1040.74 1056.92,1040.7 1058.12,1040.65 1059.32,1040.61 1060.52,1040.57 1061.72,1040.53 1062.92,1040.49 1064.12,1040.45 1065.32,1040.41 1066.52,1040.37 1067.72,1040.33 1068.92,1040.29 1070.12,1040.25 1071.32,1040.21 1072.52,1040.18 1073.72,1040.14 1074.92,1040.1 1076.12,1040.07 1077.32,1040.04 1078.52,1040 1079.72,1039.97 1080.92,1039.93 1082.12,1039.9 1083.32,1039.87 1084.52,1039.84 1085.72,1039.81 1086.92,1039.77 1088.12,1039.74 1089.32,1039.71 1090.52,1039.68 1091.72,1039.65 1092.92,1039.63 1094.12,1039.6 1095.32,1039.57 1096.52,1039.54 1097.72,1039.51 1098.92,1039.49 1100.12,1039.46 1101.32,1039.43 1102.52,1039.41 1103.72,1039.38 1104.92,1039.36 1106.12,1039.33 1107.32,1039.31 1108.52,1039.28 1109.72,1039.26 1110.92,1039.24 1112.12,1039.21 1113.32,1039.19 1114.52,1039.17 1115.72,1039.14 1116.92,1039.12 1118.12,1039.1 1119.32,1039.08 1120.52,1039.06 1121.72,1039.04 1122.92,1039.02 1124.12,1039 1125.32,1038.98 1126.52,1038.96 1127.72,1038.94 1128.92,1038.92 1130.12,1038.9 1131.32,1038.88 1132.52,1038.86 1133.72,1038.84 1134.92,1038.82 1136.12,1038.81 1137.32,1038.79 1138.52,1038.77 1139.72,1038.75 1140.92,1038.74 1142.12,1038.72 1143.32,1038.7 1144.52,1038.69 1145.72,1038.67 1146.92,1038.66 1148.12,1038.64 1149.32,1038.62 1150.52,1038.61 1151.72,1038.59 1152.92,1038.58 1154.12,1038.56 1155.32,1038.55 1156.52,1038.54 1157.72,1038.52 1158.92,1038.51 1160.12,1038.49 1161.32,1038.48 1162.52,1038.47 1163.72,1038.45 1164.92,1038.44 1166.12,1038.43 1167.32,1038.41 1168.52,1038.4 1169.72,1038.39 1170.92,1038.38 1172.12,1038.36 1173.32,1038.35 1174.52,1038.34 1175.72,1038.33 1176.92,1038.32 1178.12,1038.31 1179.32,1038.29 1180.52,1038.28 1181.72,1038.27 1182.92,1038.26 1184.12,1038.25 1185.32,1038.24 1186.52,1038.23 1187.72,1038.22 1188.92,1038.21 1190.12,1038.2 1191.32,1038.19 1192.52,1038.18 1193.72,1038.17 1194.92,1038.16 1196.12,1038.15 1197.32,1038.14 1198.52,1038.13 1199.72,1038.12 1200.92,1038.11 1202.12,1038.1 1203.32,1038.1 1204.52,1038.09 1205.72,1038.08 1206.92,1038.07 1208.12,1038.06 1209.32,1038.05 1210.52,1038.05 1211.72,1038.04 1212.92,1038.03 1214.12,1038.02 1215.32,1038.01 1216.52,1038.01 1217.72,1038 1218.92,1037.99 1220.12,1037.98 1221.32,1037.98 1222.52,1037.97 1223.72,1037.96 1224.92,1037.96 1226.12,1037.95 1227.32,1037.94 1228.52,1037.93 1229.72,1037.93 1230.92,1037.92 1232.12,1037.91 1233.32,1037.91 1234.52,1037.9 1235.72,1037.9 1236.92,1037.89 1238.12,1037.88 1239.32,1037.88 1240.52,1037.87 1241.72,1037.87 1242.92,1037.86 1244.12,1037.85 1245.32,1037.85 1246.52,1037.84 1247.72,1037.84 1248.92,1037.83 1250.12,1037.83 1251.32,1037.82 1252.52,1037.82 1253.72,1037.81 1254.92,1037.81 1256.12,1037.8 1257.32,1037.8 1258.52,1037.79 1259.72,1037.79 1260.92,1037.78 1262.12,1037.78 1263.32,1037.77 1264.52,1037.77 1265.72,1037.76 1266.92,1037.76 1268.12,1037.75 1269.32,1037.75 1270.52,1037.74 1271.72,1037.74 1272.92,1037.74 1274.12,1037.73 1275.32,1037.73 1276.52,1037.72 1277.72,1037.72 1278.92,1037.72 1280.12,1037.71 1281.32,1037.71 1282.52,1037.7 1283.72,1037.7 1284.92,1037.7 1286.12,1037.69 1287.32,1037.69 1288.52,1037.69 1289.72,1037.68 1290.92,1037.68 1292.12,1037.68 1293.32,1037.67 1294.52,1037.67 1295.72,1037.67 1296.92,1037.66 1298.12,1037.66 1299.32,1037.66 1300.52,1037.65 1301.72,1037.65 1302.92,1037.65 1304.12,1037.64 1305.32,1037.64 1306.52,1037.64 1307.72,1037.64 1308.92,1037.63 1310.12,1037.63 1311.32,1037.63 1312.52,1037.62 1313.72,1037.62 1314.92,1037.62 1316.12,1037.62 1317.32,1037.61 1318.52,1037.61 1319.72,1037.61 1320.92,1037.61 1322.12,1037.6 1323.32,1037.6 1324.52,1037.6 1325.72,1037.6 1326.92,1037.59 1328.12,1037.59 1329.32,1037.59 1330.52,1037.59 1331.72,1037.59 1332.92,1037.58 1334.12,1037.58 1335.32,1037.58 1336.52,1037.58 1337.72,1037.58 1338.92,1037.57 1340,1037.57" fill="none" stroke="#ee0c0c" stroke-width="6.5" stroke-linejoin="round"/>
</g>
<path d="M273.4,1086.2 V1007.2 H1256 V1086.2 Z" fill="none" stroke="#000" stroke-width="2.6" stroke-dasharray="16 14.1"/>
<line x1="721.8" y1="1087" x2="721.8" y2="1234" stroke="#5a5a5a" stroke-width="3.4"/>
<path d="M714.2,1231.8 L730.2,1231.8 L724.6,1265 L719.4,1265 Z" fill="#000"/>
<rect x="188.5" y="24.8" width="1151.2" height="1735" fill="none" stroke="#000" stroke-width="4"/>
<line x1="572" y1="1733" x2="572" y2="1758" stroke="#000" stroke-width="4.5"/>
<line x1="956" y1="1733" x2="956" y2="1758" stroke="#000" stroke-width="4.5"/>
<line x1="380" y1="1745" x2="380" y2="1758" stroke="#000" stroke-width="4"/>
<line x1="764" y1="1745" x2="764" y2="1758" stroke="#000" stroke-width="4"/>
<line x1="1148" y1="1745" x2="1148" y2="1758" stroke="#000" stroke-width="4"/>
<rect x="280.5" y="1320.5" width="965" height="320" fill="#fff" stroke="#555" stroke-width="3"/>
<path d="M281,1441 282.42,1440.7 283.85,1440.41 285.27,1440.11 286.69,1439.82 288.12,1439.54 289.54,1439.25 290.96,1438.96 292.38,1438.68 293.81,1438.39 295.23,1438.11 296.65,1437.82 298.07,1437.54 299.5,1437.25 300.92,1436.96 302.34,1436.66 303.77,1436.37 305.19,1436.07 306.61,1435.76 308.04,1435.46 309.46,1435.15 310.89,1434.83 312.32,1434.51 313.74,1434.18 315.17,1433.84 316.6,1433.5 318,1433.16 319.41,1432.81 320.81,1432.46 322.22,1432.11 323.63,1431.75 325.03,1431.39 326.44,1431.03 327.85,1430.66 329.26,1430.29 330.67,1429.91 332.08,1429.53 333.49,1429.15 334.9,1428.77 336.31,1428.38 337.72,1427.99 339.13,1427.59 340.54,1427.19 341.95,1426.79 343.36,1426.39 344.76,1425.98 346.17,1425.58 347.58,1425.17 348.99,1424.75 350.39,1424.34 351.8,1423.92 353.2,1423.5 354.62,1423.07 356.03,1422.64 357.45,1422.21 358.86,1421.77 360.27,1421.32 361.69,1420.88 363.1,1420.43 364.51,1419.97 365.93,1419.52 367.34,1419.06 368.75,1418.6 370.16,1418.13 371.57,1417.67 372.99,1417.2 374.4,1416.73 375.81,1416.26 377.22,1415.79 378.63,1415.31 380.04,1414.84 381.45,1414.36 382.86,1413.88 384.27,1413.41 385.67,1412.93 387.08,1412.45 388.49,1411.98 389.9,1411.5 391.31,1411.02 392.72,1410.54 394.13,1410.06 395.54,1409.57 396.95,1409.09 398.36,1408.6 399.77,1408.11 401.17,1407.62 402.58,1407.13 403.99,1406.63 405.4,1406.14 406.8,1405.64 408.21,1405.15 409.62,1404.65 411.02,1404.16 412.43,1403.66 413.84,1403.16 415.24,1402.66 416.65,1402.17 418.06,1401.67 419.46,1401.17 420.87,1400.68 422.28,1400.18 423.69,1399.69 425.09,1399.19 426.5,1398.7 427.92,1398.21 429.35,1397.71 430.8,1397.21 432.26,1396.71 433.73,1396.2 435.21,1395.7 436.69,1395.19 438.18,1394.68 439.67,1394.18 441.16,1393.67 442.65,1393.16 444.13,1392.66 445.6,1392.15 447.07,1391.65 448.52,1391.15 449.96,1390.65 451.38,1390.15 452.79,1389.66 454.17,1389.18 455.53,1388.69 456.87,1388.21 458.18,1387.74 459.46,1387.27 460.71,1386.81 461.92,1386.35 463.1,1385.9 464.61,1385.32 466.07,1384.78 467.48,1384.25 468.84,1383.75 470.17,1383.25 471.46,1382.76 472.73,1382.26 473.98,1381.76 475.22,1381.24 476.44,1380.7 477.67,1380.13 478.9,1379.53 480.14,1378.89 481.4,1378.2 482.58,1377.52 483.77,1376.81 484.96,1376.07 486.14,1375.31 487.32,1374.52 488.5,1373.72 489.67,1372.89 490.83,1372.05 491.99,1371.19 493.13,1370.32 494.26,1369.44 495.38,1368.54 496.49,1367.64 497.58,1366.73 498.65,1365.82 499.7,1364.9 500.78,1363.94 501.84,1362.96 502.89,1361.97 503.93,1360.97 504.95,1359.95 505.96,1358.92 506.96,1357.89 507.94,1356.84 508.91,1355.78 509.86,1354.71 510.8,1353.64 511.72,1352.56 512.63,1351.48 513.52,1350.39 514.4,1349.3 515.29,1348.16 516.17,1347 517.03,1345.82 517.88,1344.63 518.72,1343.42 519.53,1342.21 520.34,1341 521.12,1339.79 521.89,1338.58 522.63,1337.39 523.36,1336.21 524.06,1335.05 524.74,1333.91 525.4,1332.8 526.19,1331.42 526.93,1330.07 527.63,1328.75 528.29,1327.45 528.93,1326.16 529.56,1324.88 530.19,1323.59 530.84,1322.3 531.5,1321" fill="none" stroke="#ee0c0c" stroke-width="3"/>
<path d="M891.7,1640.5 892.29,1639.14 892.87,1637.78 893.44,1636.42 894.02,1635.07 894.59,1633.71 895.16,1632.36 895.73,1631.01 896.3,1629.66 896.87,1628.31 897.45,1626.95 898.03,1625.59 898.61,1624.23 899.2,1622.86 899.8,1621.48 900.41,1620.1 901.03,1618.71 901.66,1617.31 902.3,1615.9 902.88,1614.62 903.47,1613.33 904.07,1612.02 904.67,1610.7 905.27,1609.36 905.88,1608.02 906.5,1606.67 907.12,1605.31 907.75,1603.95 908.38,1602.59 909.02,1601.24 909.66,1599.88 910.31,1598.53 910.96,1597.19 911.61,1595.86 912.27,1594.54 912.93,1593.24 913.6,1591.95 914.27,1590.68 914.94,1589.43 915.62,1588.2 916.3,1587 917.09,1585.64 917.88,1584.29 918.68,1582.96 919.48,1581.65 920.29,1580.35 921.1,1579.06 921.92,1577.79 922.75,1576.54 923.58,1575.3 924.41,1574.07 925.25,1572.86 926.1,1571.66 926.95,1570.48 927.8,1569.31 928.66,1568.16 929.53,1567.02 930.4,1565.9 931.37,1564.68 932.34,1563.47 933.32,1562.27 934.3,1561.09 935.29,1559.93 936.29,1558.79 937.29,1557.67 938.3,1556.56 939.31,1555.48 940.34,1554.42 941.37,1553.38 942.4,1552.36 943.45,1551.37 944.5,1550.4 945.63,1549.39 946.78,1548.41 947.93,1547.45 949.09,1546.52 950.25,1545.62 951.43,1544.74 952.61,1543.88 953.8,1543.04 954.99,1542.22 956.19,1541.43 957.39,1540.66 958.6,1539.9 959.85,1539.14 961.11,1538.41 962.38,1537.7 963.66,1537.01 964.93,1536.35 966.22,1535.71 967.51,1535.09 968.8,1534.49 970.1,1533.91 971.4,1533.35 972.7,1532.8 974.09,1532.25 975.5,1531.75 976.91,1531.29 978.32,1530.85 979.74,1530.42 981.16,1530.01 982.57,1529.59 983.99,1529.15 985.4,1528.69 986.8,1528.2 988.08,1527.72 989.36,1527.22 990.63,1526.71 991.9,1526.18 993.17,1525.65 994.44,1525.12 995.71,1524.58 996.98,1524.05 998.25,1523.52 999.52,1523 1000.8,1522.5 1002.08,1522.01 1003.36,1521.53 1004.64,1521.06 1005.92,1520.59 1007.2,1520.12 1008.49,1519.66 1009.77,1519.2 1011.06,1518.73 1012.34,1518.26 1013.62,1517.78 1014.9,1517.3 1016.19,1516.81 1017.47,1516.32 1018.76,1515.83 1020.04,1515.33 1021.32,1514.84 1022.61,1514.33 1023.89,1513.83 1025.17,1513.31 1026.45,1512.78 1027.73,1512.25 1029,1511.7 1030.27,1511.13 1031.51,1510.54 1032.73,1509.94 1033.94,1509.33 1035.15,1508.71 1036.37,1508.09 1037.62,1507.46 1038.91,1506.84 1040.24,1506.22 1041.63,1505.6 1043.1,1505 1044.29,1504.54 1045.51,1504.08 1046.78,1503.62 1048.08,1503.16 1049.41,1502.7 1050.77,1502.24 1052.15,1501.78 1053.56,1501.33 1054.98,1500.88 1056.42,1500.42 1057.88,1499.97 1059.34,1499.52 1060.81,1499.07 1062.29,1498.62 1063.76,1498.18 1065.23,1497.73 1066.7,1497.29 1068.16,1496.84 1069.6,1496.4 1070.97,1495.98 1072.35,1495.55 1073.73,1495.12 1075.12,1494.69 1076.52,1494.25 1077.92,1493.82 1079.32,1493.38 1080.73,1492.95 1082.14,1492.52 1083.56,1492.09 1084.98,1491.66 1086.4,1491.24 1087.82,1490.83 1089.24,1490.42 1090.66,1490.01 1092.09,1489.62 1093.51,1489.23 1094.94,1488.86 1096.36,1488.49 1097.78,1488.14 1099.2,1487.8 1100.6,1487.47 1102,1487.16 1103.41,1486.85 1104.81,1486.55 1106.22,1486.27 1107.63,1485.98 1109.04,1485.71 1110.45,1485.44 1111.86,1485.18 1113.27,1484.93 1114.68,1484.68 1116.09,1484.44 1117.5,1484.2 1118.91,1483.96 1120.33,1483.73 1121.74,1483.5 1123.15,1483.28 1124.56,1483.06 1125.98,1482.84 1127.39,1482.62 1128.8,1482.4 1130.27,1482.18 1131.75,1481.96 1133.22,1481.75 1134.69,1481.54 1136.17,1481.34 1137.64,1481.15 1139.12,1480.95 1140.59,1480.77 1142.06,1480.58 1143.54,1480.4 1145.01,1480.22 1146.49,1480.05 1147.97,1479.88 1149.44,1479.71 1150.92,1479.54 1152.39,1479.37 1153.87,1479.2 1155.35,1479.03 1156.82,1478.87 1158.3,1478.7 1159.78,1478.53 1161.26,1478.37 1162.73,1478.2 1164.21,1478.04 1165.69,1477.88 1167.17,1477.72 1168.65,1477.57 1170.13,1477.41 1171.61,1477.26 1173.09,1477.11 1174.57,1476.96 1176.05,1476.81 1177.53,1476.66 1179.01,1476.52 1180.5,1476.38 1181.98,1476.24 1183.46,1476.1 1184.94,1475.96 1186.42,1475.83 1187.9,1475.7 1189.38,1475.57 1190.86,1475.44 1192.35,1475.32 1193.83,1475.2 1195.32,1475.07 1196.81,1474.95 1198.3,1474.84 1199.79,1474.72 1201.28,1474.61 1202.76,1474.5 1204.25,1474.39 1205.74,1474.28 1207.22,1474.17 1208.7,1474.07 1210.17,1473.97 1211.65,1473.87 1213.12,1473.78 1214.58,1473.68 1216.04,1473.59 1217.5,1473.5 1218.97,1473.41 1220.44,1473.33 1221.9,1473.25 1223.35,1473.17 1224.81,1473.1 1226.26,1473.03 1227.7,1472.96 1229.15,1472.9 1230.59,1472.83 1232.03,1472.77 1233.47,1472.71 1234.91,1472.64 1236.35,1472.58 1237.79,1472.52 1239.23,1472.46 1240.67,1472.4 1242.11,1472.33 1243.55,1472.27 1245,1472.2" fill="none" stroke="#ee0c0c" stroke-width="3.4" stroke-linejoin="round"/>
<path d="M891.7,1640.5 892.29,1639.14 892.87,1637.78 893.44,1636.42 894.02,1635.07 894.59,1633.71 895.16,1632.36 895.73,1631.01 896.3,1629.66 896.87,1628.31 897.45,1626.95 898.03,1625.59 898.61,1624.23 899.2,1622.86 899.8,1621.48 900.41,1620.1 901.03,1618.71 901.66,1617.31 902.3,1615.9 902.88,1614.62 903.47,1613.33 904.07,1612.02 904.67,1610.7 905.27,1609.36 905.88,1608.02 906.5,1606.67 907.12,1605.31 907.75,1603.95 908.38,1602.59 909.02,1601.24 909.66,1599.88 910.31,1598.53 910.96,1597.19 911.61,1595.86 912.27,1594.54 912.93,1593.24 913.6,1591.95 914.27,1590.68 914.94,1589.43 915.62,1588.2 916.3,1587 917.09,1585.64 917.88,1584.29 918.68,1582.96 919.48,1581.65 920.29,1580.35 921.1,1579.06 921.92,1577.79 922.75,1576.54 923.58,1575.3 924.41,1574.07 925.25,1572.86 926.1,1571.66 926.95,1570.48 927.8,1569.31 928.66,1568.16 929.53,1567.02 930.4,1565.9 931.37,1564.68 932.34,1563.47 933.32,1562.27 934.3,1561.09 935.29,1559.93 936.29,1558.79 937.29,1557.67 938.3,1556.56 939.31,1555.48 940.34,1554.42 941.37,1553.38 942.4,1552.36 943.45,1551.37 944.5,1550.4 945.63,1549.39 946.78,1548.41 947.93,1547.45 949.09,1546.52 950.25,1545.62" fill="none" stroke="#ee0c0c" stroke-width="3.8" stroke-linecap="round"/>
<path d="M891.7,1640.5 892.29,1639.14 892.87,1637.78 893.44,1636.42 894.02,1635.07 894.59,1633.71 895.16,1632.36 895.73,1631.01 896.3,1629.66 896.87,1628.31 897.45,1626.95 898.03,1625.59 898.61,1624.23 899.2,1622.86 899.8,1621.48 900.41,1620.1 901.03,1618.71 901.66,1617.31 902.3,1615.9 902.88,1614.62 903.47,1613.33 904.07,1612.02 904.67,1610.7 905.27,1609.36 905.88,1608.02 906.5,1606.67 907.12,1605.31 907.75,1603.95 908.38,1602.59 909.02,1601.24 909.66,1599.88 910.31,1598.53 910.96,1597.19 911.61,1595.86 912.27,1594.54 912.93,1593.24 913.6,1591.95 914.27,1590.68 914.94,1589.43 915.62,1588.2 916.3,1587 917.09,1585.64 917.88,1584.29 918.68,1582.96 919.48,1581.65 920.29,1580.35 921.1,1579.06 921.92,1577.79 922.75,1576.54 923.58,1575.3 924.41,1574.07 925.25,1572.86 926.1,1571.66 926.95,1570.48 927.8,1569.31 928.66,1568.16 929.53,1567.02 930.4,1565.9" fill="none" stroke="#ee0c0c" stroke-width="4.4" stroke-linecap="round"/>
<path d="M891.7,1640.5 892.29,1639.14 892.87,1637.78 893.44,1636.42 894.02,1635.07 894.59,1633.71 895.16,1632.36 895.73,1631.01 896.3,1629.66 896.87,1628.31 897.45,1626.95 898.03,1625.59 898.61,1624.23 899.2,1622.86 899.8,1621.48 900.41,1620.1 901.03,1618.71 901.66,1617.31 902.3,1615.9 902.88,1614.62 903.47,1613.33 904.07,1612.02 904.67,1610.7 905.27,1609.36 905.88,1608.02 906.5,1606.67 907.12,1605.31 907.75,1603.95 908.38,1602.59 909.02,1601.24 909.66,1599.88 910.31,1598.53 910.96,1597.19 911.61,1595.86 912.27,1594.54 912.93,1593.24 913.6,1591.95 914.27,1590.68" fill="none" stroke="#ee0c0c" stroke-width="5.0" stroke-linecap="round"/>
<line x1="714" y1="1322" x2="720.5" y2="1639" stroke="#ee0c0c" stroke-width="6.5"/>
<rect x="755.1" y="1321.7" width="4.8" height="8.2" fill="#666"/>
<rect x="758" y="1329.9" width="1.9" height="13.6" fill="#ddd"/>
<rect x="760.2" y="1321.7" width="2.9" height="27.2" fill="#222"/>
<rect x="763.1" y="1321.7" width="2.8" height="38.3" fill="#666"/>
<rect x="763.1" y="1321.7" width="2.8" height="20" fill="#444"/>
<rect x="765.9" y="1321.7" width="5.1" height="17.1" fill="#333"/>
<rect x="766.2" y="1338.8" width="2.3" height="15.8" fill="#ccc"/>
<rect x="774.2" y="1321.7" width="2.5" height="11" fill="#555"/>
<line x1="458.4" y1="1548" x2="447" y2="1434" stroke="#000" stroke-width="2.4"/>
<path d="M438.6,1437.5 L455.8,1437 L444.8,1405.1 Z" fill="#000"/>
<line x1="548.2" y1="1562.3" x2="930" y2="1523" stroke="#000" stroke-width="2.2"/>
<path d="M926,1514 L928,1532 L958.3,1519.8 Z" fill="#000"/>
<g font-family="Liberation Sans, sans-serif" stroke="#fff" stroke-width="0.9">
<text x="217.01" y="291.65" font-size="74.73" fill="#000">a</text>
<text x="212.6" y="531.2" font-size="77.12" fill="#000">b</text>
<text x="215.6" y="768.95" font-size="74.91" fill="#000">c</text>
<text x="215.57" y="993.84" font-size="75.81" fill="#000">d</text>
<text x="1162.42" y="278.92" font-size="77.57" letter-spacing="-0.64" fill="#000">x4.5</text>
<text x="1232.45" y="522.61" font-size="79.01" letter-spacing="-1" fill="#000">x3</text>
<text x="1232.42" y="765.2" font-size="79.58" letter-spacing="-1" fill="#000">x9</text>
<text x="1229.82" y="997.3" font-size="77.55" fill="#000">x</text>
<path transform="translate(1267.6,997.3) scale(0.03784,-0.03784)" d="M763 0L583 0L583 1147Q518 1085 412.5 1023Q307 961 223 930L223 1104Q374 1175 487 1276Q600 1377 647 1472L763 1472Z" fill="#000"/>
<text x="955.93" y="468.62" font-size="88.03" letter-spacing="-1" fill="#000">300K</text>
<text x="980.25" y="941.93" font-size="86.9" letter-spacing="0.4" fill="#000">20K</text>
<text x="120.59" y="1831.9" font-size="60.28" letter-spacing="0.07" fill="#000" stroke="none">3340</text>
<text x="504.09" y="1831.9" font-size="60.28" letter-spacing="0.07" fill="#000" stroke="none">3350</text>
<text x="888.09" y="1831.9" font-size="60.28" letter-spacing="0.07" fill="#000" stroke="none">3360</text>
<text x="1272.09" y="1831.9" font-size="60.28" letter-spacing="0.07" fill="#000" stroke="none">3370</text>
<text x="652.8" y="1949.31" font-size="77.55" letter-spacing="-0.15" fill="#000">B (Gs)</text>
<text transform="translate(91.26,1081.83) rotate(-90)" font-size="78.3" letter-spacing="-0.69">dI/dB (a. u.)</text>
<text x="304.26" y="1604.82" font-size="58.11" letter-spacing="0.99" fill="#000" stroke="none">satelittes</text>
</g>
</svg></body></html>
